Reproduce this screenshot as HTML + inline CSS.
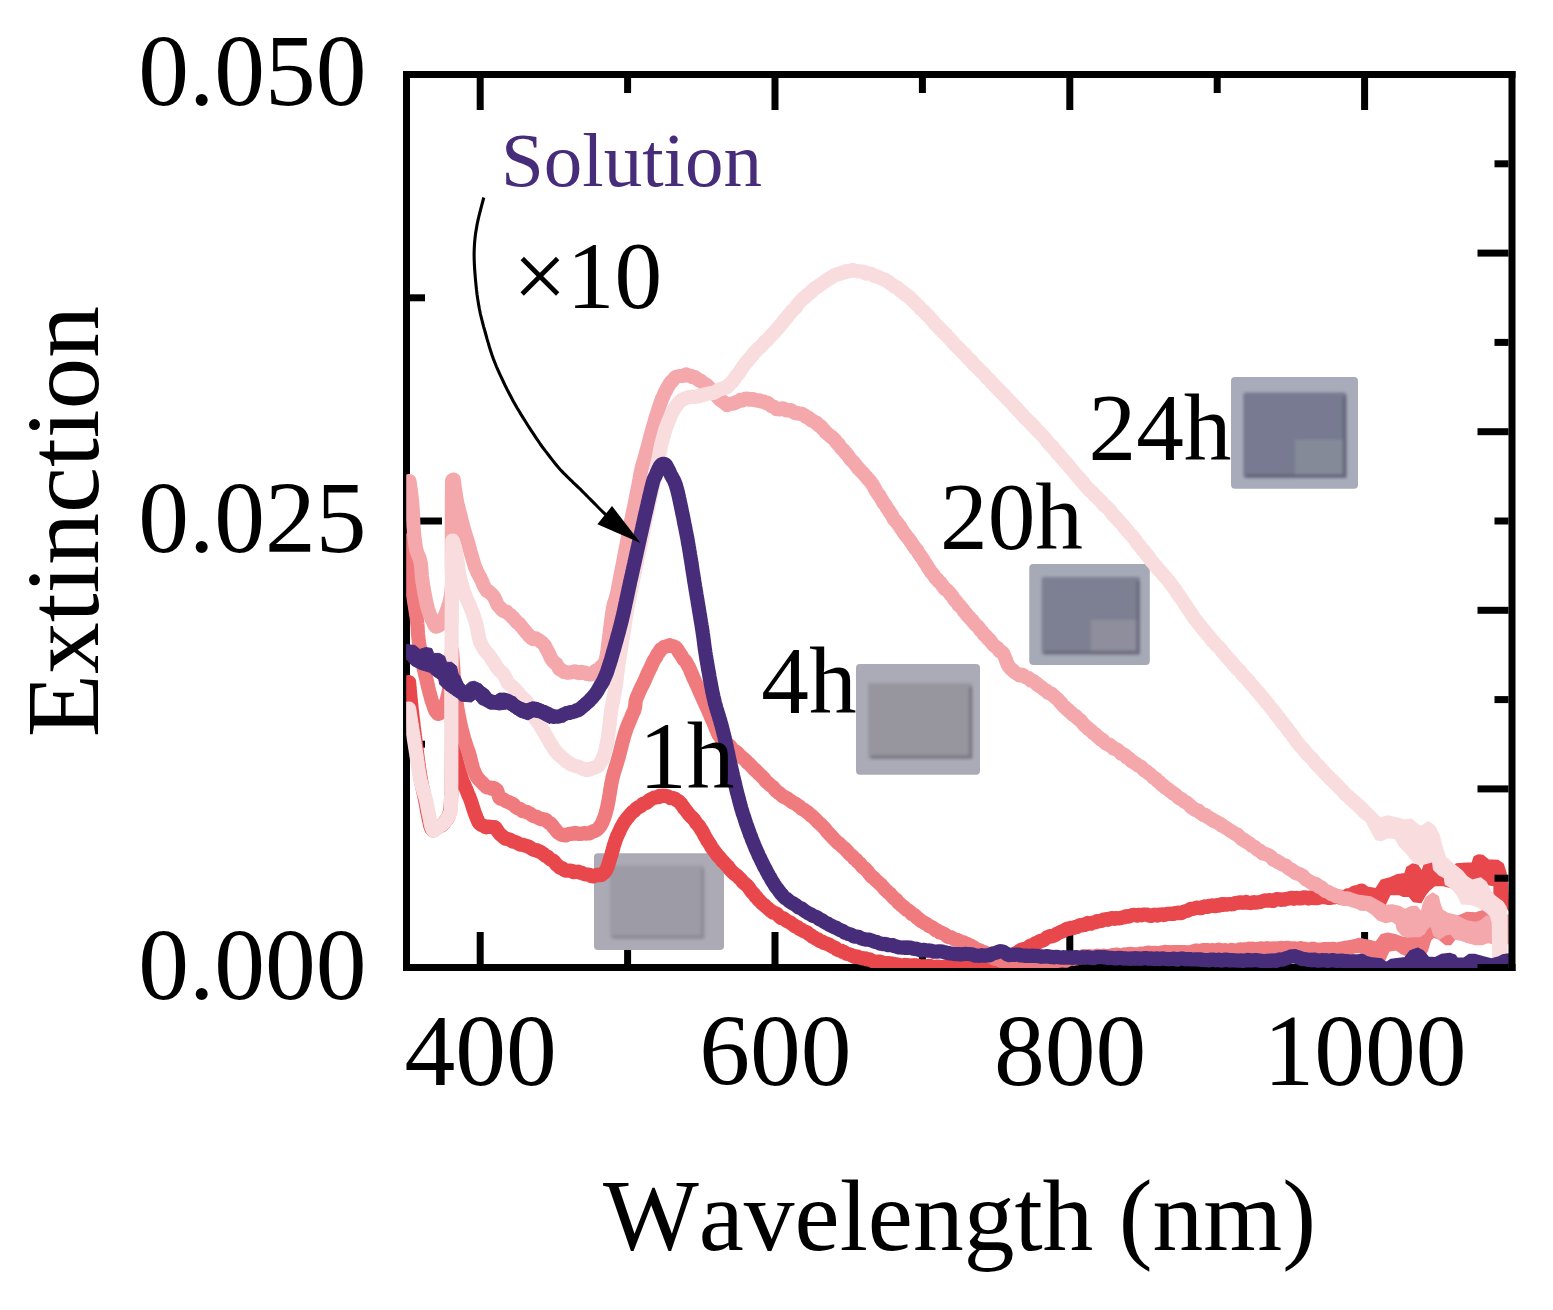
<!DOCTYPE html>
<html lang="en"><head><meta charset="utf-8"><title>Extinction spectra</title>
<style>
html,body{margin:0;padding:0;background:#fff;}
body{width:1553px;height:1310px;overflow:hidden;}
svg{display:block;}
text{font-family:"Liberation Serif","Times New Roman",serif;font-kerning:none;fill:#000;}
.tl{font-size:101.5px;}
.an{font-size:95.3px;}
.c{fill:none;stroke-width:14.2;stroke-linejoin:round;stroke-linecap:round;}
</style></head><body>
<svg width="1553" height="1310" viewBox="0 0 1553 1310">
<defs>
<clipPath id="cp"><rect x="406.2" y="0" width="1103.8" height="968"/></clipPath>
<filter id="bl" x="-10%" y="-10%" width="120%" height="120%"><feGaussianBlur stdDeviation="1.6"/></filter>
<filter id="bl2" x="-10%" y="-10%" width="120%" height="120%"><feGaussianBlur stdDeviation="0.7"/></filter>
</defs>
<rect width="1553" height="1310" fill="#fff"/>

<text class="tl" x="366.5" y="105" text-anchor="end">0.050</text>
<text class="tl" x="366.5" y="552" text-anchor="end">0.025</text>
<text class="tl" x="366.5" y="998.5" text-anchor="end">0.000</text>
<text class="tl" x="480.5" y="1085.3" text-anchor="middle">400</text>
<text class="tl" x="775.3" y="1085.3" text-anchor="middle">600</text>
<text class="tl" x="1070.1" y="1085.3" text-anchor="middle">800</text>
<text class="tl" x="1364.9" y="1085.3" text-anchor="middle">1000</text>
<text class="tl" x="959.5" y="1249.5" text-anchor="middle" id="xt">Wavelength (nm)</text>
<text class="tl" style="font-size:103.5px" transform="translate(97.5,521.7) rotate(-90)" text-anchor="middle" id="yt">Extinction</text>
<g stroke="#000" stroke-width="7" fill="none" stroke-linecap="butt">
<path d="M406.5,971.0 V74.5 H1515.5"/>
<path d="M403.0,967.5 H1515.5"/>
<path d="M480.2,78.0 v32"/>
<path d="M480.2,964.0 v-32"/>
<path d="M627.6,78.0 v15"/>
<path d="M627.6,964.0 v-15"/>
<path d="M775.0,78.0 v32"/>
<path d="M775.0,964.0 v-32"/>
<path d="M922.4,78.0 v15"/>
<path d="M922.4,964.0 v-15"/>
<path d="M1069.8,78.0 v32"/>
<path d="M1069.8,964.0 v-32"/>
<path d="M1217.2,78.0 v15"/>
<path d="M1217.2,964.0 v-15"/>
<path d="M1364.6,78.0 v32"/>
<path d="M1364.6,964.0 v-32"/>
<path d="M410.0,744.2 h15"/>
<path d="M410.0,521.0 h32"/>
<path d="M410.0,297.8 h15"/>
</g>
<g>
<rect x="594" y="853.3" width="130" height="96.70000000000005" rx="4" fill="#ABAAB5" filter="url(#bl2)"/>
<g filter="url(#bl)">
<rect x="610" y="865.5" width="94.5" height="73.5" rx="2" fill="#9C9BA6"/>
<path d="M613,937 H702.5 V869.5" fill="none" stroke="#8C8B96" stroke-width="3.5"/>
</g></g>
<g>
<rect x="856" y="664" width="124" height="110.79999999999995" rx="4" fill="#ABABB7" filter="url(#bl2)"/>
<g filter="url(#bl)">
<rect x="868" y="683" width="104.5" height="76" rx="2" fill="#97969F"/>
<path d="M871,757 H970.5 V687" fill="none" stroke="#7B7A84" stroke-width="3.5"/>
</g></g>
<g>
<rect x="1029.3" y="564" width="120.5" height="101" rx="4" fill="#A6A9B6" filter="url(#bl2)"/>
<g filter="url(#bl)">
<rect x="1041.7" y="577" width="98.29999999999995" height="77.60000000000002" rx="2" fill="#7D8092"/>
<rect x="1090.85" y="619.6800000000001" width="49.14999999999998" height="34.92000000000001" fill="#8E8E9C"/>
<path d="M1044.7,652.6 H1138 V581" fill="none" stroke="#6A6C7C" stroke-width="3.5"/>
</g></g>
<g>
<rect x="1231" y="377" width="127" height="111.80000000000001" rx="4" fill="#A8ACBA" filter="url(#bl2)"/>
<g filter="url(#bl)">
<rect x="1243.3" y="392.6" width="103.20000000000005" height="85.39999999999998" rx="2" fill="#777A90"/>
<rect x="1294.9" y="439.57" width="51.60000000000002" height="38.42999999999999" fill="#858A99"/>
<path d="M1246.3,476 H1344.5 V396.6" fill="none" stroke="#646679" stroke-width="3.5"/>
</g></g>
<g clip-path="url(#cp)">
<path class="c" stroke="#E8474C" d="M409.0,682.0 L409.2,683.6 L409.3,685.2 L409.5,686.9 L409.6,688.4 L409.8,690.0 L409.9,691.6 L410.1,693.2 L410.2,694.7 L410.4,696.3 L410.5,697.9 L410.7,699.5 L410.9,701.1 L411.0,702.7 L411.2,704.3 L411.4,705.9 L411.5,707.6 L411.7,709.1 L411.9,710.7 L412.1,712.2 L412.2,713.9 L412.4,715.5 L412.6,717.0 L412.8,718.6 L413.0,720.2 L413.2,721.9 L413.4,723.4 L413.5,725.0 L413.7,726.6 L413.9,728.2 L414.1,729.7 L414.3,731.2 L414.5,732.9 L414.7,734.5 L414.9,736.2 L415.1,737.6 L415.3,739.3 L415.5,740.9 L415.7,742.5 L415.9,744.0 L416.1,745.6 L416.3,747.1 L416.5,748.8 L416.7,750.3 L416.9,752.0 L417.1,753.5 L417.3,755.2 L417.5,756.8 L417.7,758.3 L417.9,759.9 L418.2,761.6 L418.4,763.1 L418.6,764.6 L418.8,766.2 L419.0,767.8 L419.3,769.3 L419.5,771.0 L419.7,772.6 L420.0,774.2 L420.2,775.6 L420.5,777.3 L420.7,779.0 L421.0,780.5 L421.3,782.0 L421.6,783.7 L421.9,785.2 L422.2,786.7 L422.6,788.1 L422.9,789.9 L423.3,791.4 L423.6,792.9 L424.0,794.5 L424.3,796.1 L424.7,797.7 L425.0,799.2 L425.3,800.7 L425.6,802.4 L425.9,804.1 L426.2,805.5 L426.5,807.1 L426.7,808.7 L427.0,810.2 L427.3,811.9 L427.7,813.5 L428.0,815.0 L428.3,816.5 L428.6,818.0 L428.9,819.6 L429.3,821.1 L429.6,822.6 L429.9,824.2 L430.4,825.9 L430.9,827.4 L431.6,829.1 L432.9,830.4 L434.4,830.0 L435.8,828.2 L437.1,827.9 L438.5,826.4 L440.0,826.2 L441.3,825.7 L442.6,824.6 L443.8,823.3 L444.9,821.6 L445.9,820.3 L446.9,819.4 L447.7,817.9 L448.4,816.6 L448.9,815.1 L449.4,813.5 L449.9,812.0 L450.2,810.6 L450.4,809.0 L450.6,807.4 L450.7,805.8 L450.8,804.2 L450.9,802.6 L451.0,801.0 L451.0,799.4 L451.1,797.8 L451.1,796.2 L451.2,794.6 L451.2,793.0 L451.3,791.4 L451.3,789.8 L451.3,788.2 L451.4,786.6 L451.4,785.0 L451.4,783.4 L451.5,781.8 L451.5,780.2 L451.5,778.6 L451.5,777.0 L451.6,775.4 L451.6,773.8 L451.6,772.2 L451.6,770.6 L451.7,769.0 L451.7,767.4 L451.7,765.8 L451.7,764.2 L451.8,762.6 L451.8,761.0 L451.8,759.4 L451.8,757.8 L451.8,756.2 L451.9,754.6 L451.9,753.0 L451.9,751.4 L451.9,749.8 L452.0,748.2 L452.0,746.6 L452.0,745.0 L452.4,746.6 L452.9,748.2 L453.4,749.7 L453.8,751.3 L454.3,752.6 L454.7,754.1 L455.2,755.7 L455.6,757.3 L456.1,758.6 L456.5,760.2 L457.0,762.0 L457.4,763.5 L457.8,765.2 L458.2,766.4 L458.7,768.2 L459.1,769.8 L459.5,771.0 L459.9,772.6 L460.3,774.3 L460.8,775.7 L461.3,777.3 L461.8,779.0 L462.3,780.5 L462.9,781.9 L463.5,783.1 L464.2,784.7 L464.8,786.0 L465.4,787.6 L466.1,789.0 L466.7,790.5 L467.3,792.0 L467.9,793.7 L468.5,795.4 L469.2,796.6 L469.7,797.8 L470.3,799.5 L470.8,800.9 L471.4,802.6 L471.9,804.2 L472.3,805.5 L472.8,807.1 L473.3,808.5 L473.8,810.0 L474.3,811.5 L474.8,813.1 L475.4,814.5 L476.0,816.1 L476.5,817.5 L477.1,818.9 L477.7,820.3 L478.4,822.0 L479.3,823.2 L480.4,824.2 L481.7,825.1 L483.2,825.5 L484.8,826.8 L486.3,827.3 L487.9,826.7 L489.5,826.7 L491.1,826.9 L492.7,827.0 L494.3,827.0 L495.6,828.0 L496.6,829.5 L497.4,830.5 L498.2,832.0 L499.1,833.1 L500.2,834.4 L501.4,835.3 L502.8,836.6 L504.2,837.7 L505.6,838.7 L507.1,838.8 L508.5,839.5 L510.0,839.6 L511.4,840.7 L512.9,841.6 L514.4,841.8 L515.9,842.1 L517.4,843.1 L518.9,843.9 L520.4,844.6 L521.8,844.7 L523.3,844.9 L524.8,845.4 L526.3,845.9 L527.7,846.3 L529.2,846.9 L530.7,848.0 L532.1,848.8 L533.7,849.9 L535.2,850.0 L536.7,850.0 L538.2,851.4 L539.6,851.4 L541.0,852.2 L542.4,853.5 L543.8,854.1 L545.1,855.6 L546.5,856.4 L547.8,856.8 L549.1,858.2 L550.4,859.4 L551.6,860.0 L552.8,860.5 L554.0,861.3 L555.2,863.0 L556.4,864.5 L557.6,865.5 L558.8,866.6 L560.0,867.7 L561.4,868.0 L562.7,868.5 L564.2,869.8 L565.7,870.7 L567.2,870.7 L568.8,870.6 L570.3,870.5 L571.9,871.0 L573.5,872.1 L575.1,871.7 L576.7,871.9 L578.2,871.7 L579.8,872.6 L581.3,872.6 L582.9,873.6 L584.4,874.1 L586.0,874.4 L587.5,874.5 L589.1,874.8 L590.7,875.8 L592.3,876.4 L593.9,876.3 L595.5,875.4 L597.1,875.0 L598.6,874.8 L600.2,875.2 L601.7,875.0 L603.1,873.5 L604.4,872.7 L605.4,871.3 L606.2,869.9 L606.9,868.4 L607.5,867.1 L608.0,865.7 L608.5,864.2 L608.9,862.6 L609.4,861.0 L609.9,859.5 L610.3,857.8 L610.8,856.5 L611.3,855.0 L611.7,853.3 L612.1,851.7 L612.6,850.2 L613.0,848.8 L613.4,847.3 L613.8,845.5 L614.3,844.2 L614.8,842.8 L615.3,841.3 L615.8,839.6 L616.4,838.1 L617.0,836.5 L617.6,835.3 L618.3,833.7 L619.0,832.5 L619.7,830.7 L620.4,829.0 L621.1,827.7 L621.9,826.2 L622.7,824.8 L623.6,823.2 L624.4,821.8 L625.3,820.8 L626.2,819.3 L627.2,818.0 L628.2,817.1 L629.2,815.7 L630.2,814.5 L631.4,813.3 L632.5,812.1 L633.6,811.3 L634.8,810.5 L636.0,808.8 L637.3,808.1 L638.5,807.2 L639.8,806.7 L641.1,805.8 L642.4,804.4 L643.7,803.6 L645.1,803.2 L646.5,802.7 L647.9,801.8 L649.3,800.1 L650.7,799.3 L652.1,798.7 L653.6,797.9 L655.0,797.7 L656.5,797.1 L658.1,797.2 L659.6,795.8 L661.2,796.3 L662.8,795.6 L664.4,796.0 L666.0,795.9 L667.6,796.3 L669.1,797.1 L670.6,798.2 L672.1,797.8 L673.6,798.5 L675.1,798.8 L676.5,800.2 L677.8,800.7 L679.1,801.5 L680.3,803.2 L681.3,803.9 L682.3,805.7 L683.3,806.7 L684.2,808.5 L685.1,809.3 L686.0,810.4 L687.0,811.9 L688.0,813.0 L689.0,814.5 L690.1,815.6 L691.1,816.7 L692.2,817.6 L693.2,818.7 L694.3,819.8 L695.3,821.4 L696.3,823.2 L697.4,824.3 L698.4,825.4 L699.4,826.6 L700.3,828.2 L701.1,829.7 L702.0,830.6 L702.8,832.2 L703.6,833.4 L704.3,835.2 L705.1,836.6 L705.9,837.9 L706.7,839.3 L707.5,840.8 L708.3,841.7 L709.1,843.1 L709.9,844.2 L710.7,845.6 L711.6,847.5 L712.5,848.8 L713.4,849.8 L714.3,851.0 L715.3,852.4 L716.3,853.4 L717.3,855.2 L718.3,856.2 L719.4,857.1 L720.4,858.5 L721.5,859.8 L722.5,861.3 L723.6,862.1 L724.7,863.2 L725.8,864.5 L726.9,865.7 L728.0,866.6 L729.1,868.2 L730.2,869.7 L731.3,870.9 L732.4,872.0 L733.5,872.9 L734.7,874.2 L735.8,874.8 L737.0,875.6 L738.1,876.7 L739.3,878.1 L740.4,879.0 L741.6,880.3 L742.7,881.9 L743.8,883.0 L745.0,883.7 L746.0,884.7 L747.1,885.6 L748.2,886.8 L749.2,888.2 L750.3,889.9 L751.3,891.4 L752.3,892.4 L753.3,893.2 L754.4,894.7 L755.4,896.4 L756.4,897.0 L757.5,898.5 L758.6,900.1 L759.7,900.8 L760.8,902.0 L762.0,903.4 L763.2,904.4 L764.4,905.0 L765.6,906.4 L766.8,907.4 L768.1,908.5 L769.3,909.4 L770.6,910.7 L771.9,911.4 L773.2,912.7 L774.5,912.8 L775.8,913.3 L777.1,914.1 L778.4,915.5 L779.7,916.8 L781.1,918.1 L782.4,918.0 L783.8,918.5 L785.2,919.6 L786.6,920.8 L787.9,921.5 L789.3,922.1 L790.7,922.7 L792.1,924.0 L793.5,924.9 L794.9,926.2 L796.3,926.5 L797.7,927.2 L799.0,928.6 L800.4,929.4 L801.7,929.7 L803.1,930.8 L804.4,931.5 L805.8,931.9 L807.1,932.5 L808.5,933.8 L809.8,934.6 L811.2,935.4 L812.5,936.7 L813.9,937.2 L815.2,938.2 L816.6,939.1 L818.0,939.3 L819.4,940.8 L820.8,941.3 L822.2,941.7 L823.6,942.8 L825.1,943.2 L826.5,943.6 L827.9,944.2 L829.4,944.8 L830.8,945.8 L832.3,946.6 L833.7,947.2 L835.2,947.8 L836.7,949.2 L838.1,949.9 L839.6,950.6 L841.1,950.5 L842.5,952.0 L844.0,951.8 L845.5,953.1 L846.9,953.8 L848.4,954.1 L849.9,954.5 L851.4,955.2 L852.9,955.9 L854.4,956.8 L856.0,956.4 L857.5,956.5 L859.1,957.5 L860.6,957.7 L862.2,958.3 L863.7,958.5 L865.3,958.3 L866.9,959.5 L868.4,959.3 L870.0,959.6 L871.6,960.5 L873.1,961.3 L874.7,961.7 L876.3,962.2 L877.8,961.7 L879.4,961.6 L881.0,961.9 L882.6,962.8 L884.2,963.0 L885.7,963.2 L887.3,963.5 L888.9,963.1 L890.5,963.5 L892.1,963.6 L893.7,964.4 L895.3,964.1 L896.8,964.4 L898.4,964.7 L900.0,965.1 L901.6,965.5 L903.2,965.7 L904.8,965.0 L906.4,965.9 L908.0,965.2 L909.6,965.8 L911.2,965.6 L912.8,965.3 L914.4,965.6 L916.0,965.4 L917.6,965.5 L919.2,966.6 L920.8,966.9 L922.4,966.4 L924.0,966.4 L925.6,966.5 L927.2,966.2 L928.8,965.8 L930.4,966.0 L932.0,966.7 L933.5,967.2 L935.1,966.9 L936.7,967.1 L938.3,966.6 L939.9,967.0 L941.5,967.2 L943.1,967.5 L944.7,966.6 L946.3,966.8 L947.9,966.2 L949.5,966.7 L951.1,966.9 L952.7,967.1 L954.3,967.2 L955.9,967.0 L957.5,966.7 L959.1,966.8 L960.7,967.6 L962.3,967.2 L963.9,968.0 L965.5,968.2 L967.1,967.5 L968.7,967.4 L970.3,967.8 L971.9,966.8 L973.5,967.4 L975.1,967.1 L976.7,967.3 L978.3,966.3 L979.9,966.7 L981.5,965.9 L983.1,965.7 L984.7,965.9 L986.2,965.9 L987.8,965.4 L989.4,964.8 L990.9,964.5 L992.5,964.0 L994.0,963.5 L995.6,963.0 L997.1,962.8 L998.6,962.8 L1000.1,962.5 L1001.5,961.4 L1003.0,961.2 L1004.4,959.9 L1005.7,959.4 L1007.1,958.7 L1008.4,957.8 L1009.8,957.2 L1011.2,956.1 L1012.6,955.5 L1014.0,954.1 L1015.4,953.3 L1016.8,952.7 L1018.2,952.0 L1019.7,950.7 L1021.1,949.9 L1022.6,949.7 L1024.0,948.9 L1025.5,948.6 L1026.9,948.1 L1028.3,947.3 L1029.8,946.0 L1031.2,945.4 L1032.7,945.4 L1034.1,944.3 L1035.6,943.1 L1037.0,943.0 L1038.5,942.1 L1039.9,941.1 L1041.4,940.7 L1042.8,940.6 L1044.2,939.7 L1045.7,938.5 L1047.1,937.3 L1048.5,936.9 L1050.0,936.1 L1051.4,936.3 L1052.8,935.9 L1054.3,935.4 L1055.7,934.8 L1057.2,933.4 L1058.7,932.9 L1060.2,932.2 L1061.7,931.6 L1063.2,931.0 L1064.7,930.1 L1066.2,929.3 L1067.7,928.5 L1069.3,928.8 L1070.8,927.9 L1072.3,928.2 L1073.8,927.8 L1075.4,926.9 L1076.9,927.1 L1078.5,925.8 L1080.0,925.2 L1081.5,925.4 L1083.1,924.7 L1084.6,924.9 L1086.2,924.2 L1087.7,923.0 L1089.3,923.5 L1090.8,923.7 L1092.4,922.8 L1093.9,922.5 L1095.5,922.2 L1097.1,921.1 L1098.6,921.3 L1100.2,920.9 L1101.8,920.8 L1103.3,919.7 L1104.9,919.6 L1106.5,919.1 L1108.1,919.8 L1109.7,918.8 L1111.3,918.2 L1112.8,918.2 L1114.4,918.8 L1116.0,918.0 L1117.6,918.3 L1119.2,918.4 L1120.8,918.0 L1122.3,917.4 L1123.9,917.5 L1125.5,916.5 L1127.1,916.1 L1128.6,916.6 L1130.2,915.8 L1131.8,915.4 L1133.4,914.9 L1135.0,915.1 L1136.6,915.7 L1138.2,914.8 L1139.7,914.8 L1141.3,915.4 L1142.9,914.5 L1144.5,914.7 L1146.1,914.5 L1147.7,914.8 L1149.3,915.6 L1150.9,915.9 L1152.5,915.2 L1154.1,914.7 L1155.7,914.9 L1157.3,915.6 L1158.9,914.8 L1160.5,914.5 L1162.1,914.4 L1163.7,915.1 L1165.3,914.5 L1166.9,913.9 L1168.5,913.9 L1170.1,914.0 L1171.7,913.5 L1173.3,913.9 L1174.9,913.2 L1176.4,913.1 L1178.0,912.7 L1179.6,913.1 L1181.2,913.2 L1182.7,912.3 L1184.3,911.6 L1185.8,911.0 L1187.4,910.9 L1188.9,909.9 L1190.4,909.1 L1192.0,908.8 L1193.5,908.8 L1195.1,908.3 L1196.6,907.7 L1198.2,907.8 L1199.8,908.2 L1201.3,908.2 L1202.9,907.1 L1204.5,906.4 L1206.1,906.7 L1207.7,906.9 L1209.3,905.9 L1210.8,905.8 L1212.4,905.4 L1214.0,906.0 L1215.6,906.2 L1217.2,905.1 L1218.8,905.6 L1220.4,904.5 L1221.9,904.1 L1223.5,904.8 L1225.1,904.1 L1226.7,904.6 L1228.3,904.2 L1229.9,904.0 L1231.5,904.3 L1233.1,904.1 L1234.7,903.3 L1236.3,903.0 L1237.9,902.7 L1239.5,902.4 L1241.1,902.3 L1242.7,902.8 L1244.3,902.6 L1245.9,901.9 L1247.5,902.7 L1249.1,902.8 L1250.7,903.1 L1252.3,902.8 L1253.9,902.2 L1255.5,902.6 L1257.0,902.5 L1258.6,902.2 L1260.2,902.0 L1261.8,901.5 L1263.4,901.0 L1265.0,900.4 L1266.6,900.5 L1268.2,900.6 L1269.8,900.0 L1271.4,900.7 L1272.9,901.0 L1274.5,900.1 L1276.1,899.4 L1277.7,899.0 L1279.3,899.5 L1280.9,899.8 L1282.5,899.4 L1284.1,899.7 L1285.7,899.0 L1287.3,898.8 L1288.9,898.5 L1290.5,898.0 L1292.1,897.8 L1293.7,898.8 L1295.3,898.2 L1296.9,897.8 L1298.5,898.4 L1300.1,898.2 L1301.7,898.3 L1303.3,897.6 L1304.9,897.3 L1306.5,897.7 L1308.1,898.5 L1309.7,897.8 L1311.3,897.3 L1312.9,898.0 L1314.5,898.2 L1316.1,897.9 L1317.7,898.1 L1319.3,897.5 L1320.9,897.1 L1322.5,897.1 L1324.1,896.9 L1325.7,897.3 L1327.3,897.7 L1328.9,897.9 L1330.5,897.8 L1332.1,897.1 L1333.7,897.5 L1335.3,897.0 L1336.9,896.6 L1338.5,896.7 L1340.0,897.5 L1341.6,896.9 L1343.2,896.8 L1344.8,896.8 L1346.4,896.3 L1347.9,895.3 L1349.5,895.2 L1351.0,894.9 L1352.5,894.0 L1354.0,893.1 L1355.5,892.3 L1357.1,892.5 L1358.6,892.6 L1360.1,891.1 L1361.6,890.7 L1362.0,890.9"/>
<path fill="#E8474C" stroke="#E8474C" stroke-width="1.5" stroke-linejoin="round" d="M1359.0,885.0 L1368.6,887.6 L1376.0,888.7 L1381.4,880.2 L1389.9,878.0 L1397.4,874.8 L1404.9,873.7 L1407.0,867.3 L1412.4,864.1 L1417.7,865.2 L1422.0,871.6 L1424.1,865.2 L1431.6,860.4 L1433.7,869.5 L1439.1,874.8 L1445.5,870.5 L1456.2,864.1 L1462.6,863.6 L1472.2,863.1 L1474.4,856.6 L1478.6,855.0 L1482.9,855.6 L1488.3,859.9 L1497.9,860.4 L1503.2,864.1 L1505.9,872.7 L1507.5,885.5 L1508.6,910.1 L1508.6,910.1 L1504.3,902.6 L1498.9,898.3 L1494.1,896.2 L1494.1,885.5 L1487.2,884.4 L1482.9,881.8 L1477.6,881.2 L1472.2,883.4 L1462.6,883.4 L1456.2,885.5 L1450.9,887.6 L1443.4,885.5 L1434.8,885.5 L1429.5,889.8 L1425.2,895.1 L1420.9,902.6 L1413.4,901.5 L1409.2,896.2 L1402.8,896.2 L1399.5,894.6 L1389.9,894.6 L1384.6,905.8 L1379.2,902.6 L1373.9,898.3 L1366.4,897.8 L1359.0,898.6Z"/>
<path class="c" stroke="#F07B7E" d="M409.0,540.0 L409.1,541.6 L409.1,543.2 L409.2,544.8 L409.3,546.4 L409.4,548.0 L409.4,549.6 L409.5,551.2 L409.6,552.8 L409.6,554.4 L409.7,556.0 L409.8,557.6 L409.8,559.2 L409.9,560.8 L410.0,562.4 L410.1,564.0 L410.1,565.6 L410.2,567.2 L410.3,568.8 L410.4,570.4 L410.5,572.0 L410.6,573.6 L410.7,575.1 L410.8,576.8 L410.9,578.4 L411.0,580.0 L411.1,581.5 L411.3,583.1 L411.5,584.8 L411.7,586.4 L411.9,587.9 L412.1,589.4 L412.4,591.1 L412.6,592.7 L412.9,594.3 L413.2,595.8 L413.5,597.4 L413.7,599.0 L414.0,600.7 L414.2,602.1 L414.5,603.6 L414.7,605.1 L415.0,606.8 L415.2,608.4 L415.5,610.1 L415.7,611.6 L416.0,613.2 L416.2,614.8 L416.5,616.3 L416.7,617.9 L416.9,619.6 L417.0,621.1 L417.2,622.7 L417.3,624.3 L417.5,625.9 L417.6,627.4 L417.7,629.1 L417.8,630.7 L417.9,632.3 L418.0,633.8 L418.2,635.4 L418.3,637.1 L418.5,638.6 L418.7,640.2 L418.9,641.9 L419.1,643.4 L419.4,644.9 L419.6,646.4 L419.9,648.1 L420.1,649.7 L420.4,651.3 L420.7,652.8 L421.0,654.4 L421.2,656.1 L421.5,657.6 L421.8,659.0 L422.1,660.8 L422.5,662.4 L422.8,663.8 L423.1,665.4 L423.5,667.0 L423.8,668.5 L424.2,670.2 L424.5,671.8 L424.9,673.3 L425.3,674.8 L425.6,676.3 L426.0,677.8 L426.4,679.3 L426.7,680.8 L427.1,682.4 L427.5,684.2 L427.8,685.7 L428.2,687.4 L428.6,689.0 L429.0,690.5 L429.3,691.8 L429.8,693.6 L430.2,694.9 L430.6,696.6 L431.0,698.2 L431.5,699.8 L431.9,701.2 L432.4,702.5 L432.9,703.9 L433.4,705.7 L433.9,707.1 L434.5,708.7 L435.1,710.1 L435.8,711.3 L436.7,712.6 L438.0,713.9 L439.5,713.4 L440.7,712.2 L441.7,711.1 L442.6,709.8 L443.4,708.4 L444.1,707.0 L444.8,705.8 L445.4,704.3 L445.9,702.5 L446.4,700.9 L446.9,699.3 L447.3,697.8 L447.7,696.2 L448.1,694.8 L448.4,693.3 L448.7,691.7 L449.0,690.2 L449.2,688.5 L449.4,687.0 L449.5,685.4 L449.7,683.8 L449.8,682.2 L450.0,680.6 L450.1,679.0 L450.2,677.4 L450.3,675.8 L450.4,674.2 L450.5,672.6 L450.6,671.0 L450.7,669.4 L450.8,667.8 L450.9,666.2 L451.0,664.6 L451.1,663.1 L451.3,661.4 L451.4,659.8 L451.5,658.2 L451.6,656.6 L451.7,655.0 L451.8,653.4 L451.9,651.8 L452.0,650.3 L452.1,651.4 L452.2,653.0 L452.3,654.6 L452.4,656.1 L452.5,657.7 L452.6,659.3 L452.7,660.9 L452.8,662.5 L452.9,664.1 L453.1,665.7 L453.2,667.3 L453.3,669.0 L453.4,670.5 L453.5,672.1 L453.6,673.7 L453.7,675.3 L453.9,676.9 L454.0,678.5 L454.1,680.1 L454.2,681.7 L454.4,683.3 L454.5,684.9 L454.7,686.5 L454.8,688.0 L455.0,689.6 L455.1,691.2 L455.3,692.8 L455.5,694.4 L455.7,695.9 L455.9,697.6 L456.1,699.2 L456.3,700.9 L456.6,702.4 L456.8,703.8 L457.0,705.5 L457.3,707.1 L457.5,708.7 L457.8,710.3 L458.1,711.8 L458.3,713.4 L458.6,714.9 L458.9,716.5 L459.2,718.0 L459.5,719.7 L459.8,721.2 L460.1,722.8 L460.5,724.3 L460.8,725.8 L461.2,727.3 L461.6,729.0 L462.0,730.5 L462.4,732.0 L462.8,733.6 L463.2,735.1 L463.7,736.9 L464.1,738.5 L464.5,739.8 L465.0,741.3 L465.5,742.8 L466.0,744.4 L466.5,745.9 L467.0,747.4 L467.5,749.1 L468.1,750.4 L468.6,752.0 L469.1,753.4 L469.5,755.0 L470.0,756.5 L470.3,758.2 L470.7,759.9 L471.1,761.5 L471.5,762.9 L471.9,764.4 L472.3,765.8 L472.7,767.5 L473.2,769.1 L473.8,770.5 L474.5,771.8 L475.1,773.5 L475.9,775.0 L476.6,776.5 L477.4,777.6 L478.3,778.7 L479.3,779.9 L480.3,781.0 L481.3,782.0 L482.5,783.0 L483.7,784.5 L484.9,785.6 L486.3,787.0 L487.7,787.5 L489.2,787.4 L490.8,788.5 L492.4,787.8 L494.0,788.0 L495.5,789.1 L496.7,789.8 L497.4,791.5 L497.9,793.0 L498.3,794.4 L498.8,796.1 L499.5,797.8 L500.6,798.8 L502.0,799.0 L503.4,799.2 L505.0,800.5 L506.5,801.4 L508.0,801.8 L509.5,802.5 L510.9,803.3 L512.2,803.6 L513.4,804.3 L514.7,805.9 L515.9,807.2 L517.1,807.9 L518.4,808.5 L519.8,808.9 L521.2,809.8 L522.6,811.2 L524.1,811.3 L525.6,811.7 L527.1,812.0 L528.5,813.1 L530.0,813.4 L531.4,814.8 L532.8,815.6 L534.2,816.2 L535.7,816.6 L537.2,817.1 L538.7,818.2 L540.3,819.0 L541.9,819.3 L543.3,819.1 L544.8,819.4 L546.2,820.2 L547.6,821.7 L549.0,822.8 L550.2,823.2 L551.3,824.5 L552.3,825.6 L553.2,826.9 L554.2,827.9 L555.3,829.4 L556.5,830.8 L557.6,832.2 L558.7,833.0 L560.0,833.8 L561.4,834.8 L562.9,834.6 L564.5,835.4 L566.1,835.4 L567.6,834.4 L569.2,834.0 L570.7,833.6 L572.3,833.8 L573.9,833.6 L575.4,832.8 L577.0,833.5 L578.6,833.9 L580.2,834.0 L581.8,833.6 L583.4,833.4 L585.0,833.1 L586.6,833.6 L588.2,833.0 L589.8,833.3 L591.4,832.3 L593.0,831.4 L594.5,831.2 L595.9,830.4 L597.2,829.6 L598.4,828.4 L599.4,827.1 L600.3,826.1 L601.1,824.6 L601.9,823.3 L602.5,822.1 L603.1,820.5 L603.7,819.0 L604.3,817.5 L604.8,816.0 L605.2,814.6 L605.7,813.2 L606.1,811.4 L606.5,809.9 L606.9,808.4 L607.3,807.0 L607.6,805.4 L607.9,803.7 L608.2,802.2 L608.5,800.7 L608.8,799.2 L609.0,797.6 L609.3,795.8 L609.6,794.2 L609.8,792.7 L610.1,791.1 L610.3,789.6 L610.6,788.0 L610.9,786.5 L611.2,784.7 L611.4,783.3 L611.8,781.6 L612.1,780.1 L612.4,778.4 L612.8,776.9 L613.2,775.4 L613.6,774.0 L614.0,772.2 L614.5,770.7 L615.0,769.1 L615.5,767.8 L616.0,766.1 L616.4,764.5 L616.9,763.2 L617.4,761.5 L617.8,760.2 L618.2,758.5 L618.7,757.2 L619.1,755.4 L619.5,753.8 L619.9,752.3 L620.3,750.7 L620.7,749.3 L621.1,747.7 L621.5,746.1 L621.9,744.4 L622.3,742.8 L622.7,741.3 L623.1,739.8 L623.5,738.5 L623.9,737.0 L624.4,735.3 L624.8,733.8 L625.3,732.4 L625.8,731.0 L626.3,729.2 L626.8,727.8 L627.4,726.2 L628.0,725.0 L628.6,723.5 L629.2,722.0 L629.8,720.5 L630.5,719.1 L631.2,717.3 L631.8,715.8 L632.5,714.2 L633.1,712.7 L633.7,711.6 L634.3,710.1 L634.7,708.4 L635.1,706.9 L635.3,705.4 L635.4,703.7 L635.5,702.2 L635.8,700.6 L636.3,698.9 L636.8,697.5 L637.4,696.0 L638.0,694.7 L638.7,693.1 L639.3,691.5 L640.0,690.2 L640.7,688.7 L641.4,687.1 L642.1,685.9 L642.7,684.7 L643.4,683.3 L644.1,681.8 L644.8,680.2 L645.4,678.9 L646.1,677.1 L646.8,675.5 L647.4,674.0 L648.1,672.7 L648.8,671.2 L649.5,669.8 L650.1,668.6 L650.8,667.2 L651.5,665.5 L652.3,663.9 L653.0,662.3 L653.7,660.8 L654.5,659.5 L655.2,658.5 L656.0,657.3 L656.8,655.7 L657.6,654.0 L658.4,652.9 L659.3,651.9 L660.2,650.0 L661.2,649.1 L662.4,648.5 L663.7,647.2 L665.2,646.6 L666.7,646.3 L668.2,646.0 L669.8,645.2 L671.4,645.9 L673.0,646.2 L674.5,646.8 L675.8,647.6 L676.9,648.9 L677.8,650.0 L678.6,651.6 L679.3,652.6 L680.1,653.7 L681.0,655.0 L681.9,656.5 L682.8,658.1 L683.8,659.7 L684.8,660.3 L685.7,661.4 L686.6,662.9 L687.4,664.5 L688.2,665.9 L688.9,667.2 L689.6,668.6 L690.3,670.3 L690.9,671.8 L691.6,673.5 L692.2,674.7 L692.8,676.1 L693.4,677.9 L694.1,679.3 L694.7,680.5 L695.4,682.1 L696.0,683.5 L696.7,684.7 L697.3,686.1 L698.0,687.7 L698.6,689.2 L699.3,690.6 L699.9,692.3 L700.6,693.6 L701.2,695.1 L701.9,696.6 L702.5,697.8 L703.2,699.6 L703.8,700.9 L704.5,702.2 L705.1,703.8 L705.8,705.2 L706.4,706.5 L707.1,707.9 L707.7,709.3 L708.4,711.0 L709.0,712.5 L709.7,713.9 L710.3,715.3 L711.0,717.2 L711.6,718.6 L712.3,720.1 L713.0,721.2 L713.6,723.1 L714.2,724.2 L714.8,725.9 L715.4,727.5 L716.0,728.9 L716.6,730.2 L717.3,731.8 L717.9,733.3 L718.6,734.9 L719.4,735.9 L720.3,737.0 L721.3,738.6 L722.4,739.6 L723.6,740.9 L724.8,741.8 L726.0,742.4 L727.3,744.1 L728.5,744.8 L729.7,745.8 L730.9,747.3 L732.1,748.7 L733.3,749.9 L734.5,751.1 L735.7,751.5 L736.9,752.3 L738.0,753.4 L739.2,754.9 L740.4,756.0 L741.6,757.1 L742.7,758.2 L743.9,758.9 L745.1,760.1 L746.2,761.1 L747.4,762.7 L748.6,763.3 L749.7,764.5 L750.9,765.7 L752.1,766.9 L753.2,768.2 L754.3,769.4 L755.4,769.9 L756.5,771.6 L757.6,772.1 L758.7,773.7 L759.8,774.6 L760.9,775.4 L762.0,776.7 L763.2,777.7 L764.3,778.8 L765.4,780.7 L766.6,782.0 L767.7,782.7 L768.9,783.8 L770.1,785.0 L771.2,785.8 L772.4,786.6 L773.6,787.8 L774.8,789.4 L776.0,790.8 L777.2,791.6 L778.5,792.8 L779.7,793.4 L781.0,794.7 L782.2,795.8 L783.5,796.9 L784.8,797.1 L786.2,798.0 L787.5,798.4 L788.8,799.6 L790.2,800.5 L791.5,801.6 L792.8,802.5 L794.2,803.1 L795.5,803.7 L796.9,804.6 L798.2,806.0 L799.6,806.5 L800.9,808.1 L802.2,809.1 L803.5,809.4 L804.8,810.3 L806.1,811.6 L807.4,811.9 L808.6,813.4 L809.8,814.3 L811.0,815.6 L812.2,816.1 L813.4,817.5 L814.5,818.2 L815.7,819.4 L816.8,820.8 L818.0,822.1 L819.1,823.1 L820.3,824.0 L821.4,825.1 L822.5,826.2 L823.6,827.3 L824.7,828.4 L825.8,829.8 L826.9,831.3 L828.0,832.7 L829.1,833.6 L830.2,835.1 L831.3,835.9 L832.5,837.3 L833.6,838.6 L834.7,839.7 L835.9,841.0 L837.0,841.9 L838.1,843.1 L839.3,843.7 L840.4,844.8 L841.6,846.0 L842.7,847.1 L843.9,847.8 L845.0,848.8 L846.2,850.3 L847.3,851.3 L848.5,852.8 L849.6,854.0 L850.8,855.0 L851.9,855.7 L853.1,856.9 L854.2,858.6 L855.3,859.3 L856.5,860.0 L857.6,861.7 L858.7,862.6 L859.9,863.5 L861.0,864.9 L862.1,866.5 L863.2,867.5 L864.4,868.2 L865.5,869.0 L866.6,870.4 L867.7,871.4 L868.9,873.2 L870.0,874.6 L871.1,875.9 L872.2,877.1 L873.4,877.6 L874.5,878.8 L875.6,879.9 L876.7,881.0 L877.9,882.1 L879.0,883.0 L880.1,883.9 L881.2,884.8 L882.4,886.5 L883.5,887.4 L884.6,889.1 L885.8,890.2 L886.9,891.0 L888.1,892.6 L889.2,893.1 L890.4,894.0 L891.5,895.7 L892.7,896.6 L893.8,898.2 L895.0,899.0 L896.2,899.5 L897.3,901.3 L898.5,902.8 L899.7,903.5 L900.8,904.7 L902.0,905.7 L903.2,906.2 L904.4,907.7 L905.6,908.7 L906.8,909.9 L908.0,910.2 L909.3,911.4 L910.5,912.2 L911.8,914.0 L913.0,914.3 L914.3,914.9 L915.6,916.1 L916.9,917.7 L918.1,918.2 L919.4,919.5 L920.8,920.8 L922.1,921.6 L923.4,922.2 L924.7,923.4 L926.1,923.7 L927.4,924.4 L928.7,925.9 L930.1,926.3 L931.5,927.0 L932.8,927.6 L934.2,928.8 L935.6,930.2 L937.0,930.3 L938.4,931.2 L939.8,932.5 L941.3,932.5 L942.7,933.4 L944.1,933.9 L945.6,934.9 L947.0,936.2 L948.4,937.1 L949.9,937.2 L951.3,937.4 L952.8,938.2 L954.3,939.5 L955.7,939.5 L957.2,939.9 L958.7,940.5 L960.2,941.9 L961.7,941.9 L963.2,942.2 L964.6,942.9 L966.1,943.7 L967.6,944.1 L969.0,945.3 L970.5,945.5 L971.9,946.4 L973.4,946.9 L974.8,948.2 L976.3,949.4 L977.7,949.6 L979.1,950.0 L980.5,950.7 L981.9,951.6 L983.3,952.0 L984.7,952.4 L986.1,953.3 L987.5,954.5 L988.9,955.2 L990.3,955.6 L991.8,956.6 L993.3,958.0 L994.7,958.9 L996.2,958.7 L997.7,958.8 L999.2,959.8 L1000.8,960.8 L1002.3,960.4 L1003.8,961.1 L1005.4,961.3 L1006.9,962.4 L1008.5,963.1 L1010.1,962.5 L1011.7,963.4 L1013.2,962.8 L1014.8,962.7 L1016.4,963.8 L1018.0,963.5 L1019.6,964.3 L1021.2,964.2 L1022.8,964.3 L1024.4,964.7 L1026.0,964.7 L1027.6,964.1 L1029.2,964.0 L1030.8,963.8 L1032.4,963.5 L1034.0,963.5 L1035.6,963.9 L1037.2,963.7 L1038.8,962.9 L1040.4,963.6 L1042.0,963.6 L1043.6,963.9 L1045.2,963.4 L1046.7,962.8 L1048.3,963.0 L1049.9,962.9 L1051.5,962.5 L1053.1,962.3 L1054.7,961.7 L1056.3,961.2 L1057.8,960.5 L1059.4,960.6 L1061.0,960.6 L1062.6,960.0 L1064.2,960.6 L1065.7,960.7 L1067.3,959.8 L1068.9,958.9 L1070.4,958.3 L1072.0,958.6 L1073.6,958.8 L1075.2,958.2 L1076.7,958.4 L1078.3,957.6 L1079.9,957.2 L1081.5,956.8 L1083.1,956.3 L1084.7,956.0 L1086.3,957.1 L1087.9,956.5 L1089.5,956.1 L1091.1,956.7 L1092.7,956.5 L1094.3,956.7 L1095.9,956.0 L1097.5,955.7 L1099.1,956.1 L1100.7,956.9 L1102.3,956.1 L1103.9,955.6 L1105.5,956.2 L1107.1,956.3 L1108.7,956.0 L1110.2,956.0 L1111.8,955.4 L1113.4,955.0 L1115.0,954.8 L1116.6,954.6 L1118.2,954.9 L1119.8,955.2 L1121.4,955.4 L1123.0,955.2 L1124.6,954.4 L1126.2,954.8 L1127.8,954.2 L1129.4,953.8 L1131.0,953.9 L1132.6,954.8 L1134.2,954.3 L1135.8,954.4 L1137.4,954.5 L1139.0,954.4 L1140.6,953.6 L1142.2,953.9 L1143.8,954.0 L1145.4,953.4 L1147.0,952.9 L1148.6,952.6 L1150.2,953.3 L1151.8,953.8 L1153.4,952.8 L1155.0,952.8 L1156.6,953.3 L1158.2,953.6 L1159.8,953.6 L1161.4,952.6 L1163.0,952.5 L1164.6,951.9 L1166.2,952.1 L1167.8,952.6 L1169.4,952.1 L1171.0,952.9 L1172.6,952.2 L1174.1,952.1 L1175.7,952.1 L1177.3,952.0 L1178.9,952.2 L1180.5,952.0 L1182.1,952.3 L1183.7,952.0 L1185.3,952.4 L1186.9,952.4 L1188.5,952.4 L1190.1,952.4 L1191.7,952.0 L1193.3,951.4 L1194.9,950.8 L1196.5,950.5 L1198.1,950.8 L1199.7,951.2 L1201.3,951.0 L1202.9,950.2 L1204.5,950.2 L1206.1,950.5 L1207.7,950.1 L1209.3,951.0 L1210.9,950.5 L1212.5,950.0 L1214.1,950.9 L1215.7,950.6 L1217.3,950.1 L1218.9,949.7 L1220.5,950.1 L1222.1,950.9 L1223.7,950.3 L1225.3,950.2 L1226.9,950.7 L1228.5,950.7 L1230.1,950.8 L1231.7,949.8 L1233.3,950.5 L1234.9,950.9 L1236.5,950.3 L1238.1,950.5 L1239.7,949.6 L1241.3,949.3 L1242.9,950.1 L1244.5,949.4 L1246.1,949.3 L1247.7,949.1 L1249.3,948.7 L1250.9,949.5 L1252.5,948.7 L1254.1,949.5 L1255.7,949.0 L1257.3,949.1 L1258.9,948.7 L1260.5,948.4 L1262.1,948.6 L1263.7,949.1 L1265.3,948.9 L1266.9,948.2 L1268.5,948.4 L1270.1,948.5 L1271.7,949.0 L1273.3,948.3 L1274.9,948.8 L1276.5,948.3 L1278.1,948.8 L1279.7,948.4 L1281.3,947.9 L1282.9,948.3 L1284.5,948.8 L1286.1,947.9 L1287.7,947.9 L1289.3,948.0 L1290.9,948.7 L1292.5,949.1 L1294.0,948.3 L1295.6,948.6 L1297.2,948.8 L1298.8,948.8 L1300.4,948.1 L1302.0,948.4 L1303.6,949.2 L1305.2,948.8 L1306.8,949.5 L1308.4,949.7 L1310.0,949.3 L1311.6,948.9 L1313.2,948.7 L1314.8,949.6 L1316.4,949.7 L1318.0,950.0 L1319.6,949.7 L1321.2,949.8 L1322.8,949.4 L1324.4,949.0 L1326.0,949.3 L1327.6,949.0 L1329.2,949.3 L1330.8,949.2 L1332.4,948.9 L1334.0,948.9 L1335.6,949.6 L1337.2,949.8 L1338.8,949.8 L1340.4,948.8 L1342.0,948.5 L1343.6,948.6 L1345.1,947.7 L1346.7,947.5 L1348.3,947.8 L1349.9,948.0 L1351.4,946.8 L1353.0,946.6 L1354.6,946.3 L1356.1,945.9 L1357.7,946.2 L1359.3,945.0 L1360.9,945.5 L1362.0,945.6"/>
<path fill="#F07B7E" stroke="#F07B7E" stroke-width="1.5" stroke-linejoin="round" d="M1359.0,939.0 L1368.6,940.2 L1376.0,942.3 L1381.4,934.8 L1387.8,933.2 L1395.3,934.8 L1402.8,937.5 L1411.3,937.0 L1419.9,934.8 L1426.3,929.5 L1431.1,925.7 L1434.8,924.1 L1445.5,919.9 L1459.4,915.6 L1466.9,912.4 L1475.4,912.9 L1482.9,910.8 L1490.4,915.6 L1508.6,915.6 L1508.6,929.5 L1477.6,929.5 L1461.5,934.8 L1455.1,939.1 L1450.9,944.4 L1445.5,944.4 L1439.1,939.1 L1433.7,937.0 L1430.5,940.2 L1427.3,950.9 L1424.1,956.2 L1413.4,956.2 L1404.9,955.1 L1400.6,953.0 L1396.3,949.8 L1388.9,950.9 L1384.6,960.5 L1376.0,958.3 L1368.6,957.3 L1359.0,952.0Z"/>
<path class="c" stroke="#F4A8AB" d="M409.4,481.0 L409.6,482.6 L409.9,484.3 L410.1,485.7 L410.3,487.4 L410.6,488.9 L410.8,490.5 L411.0,492.0 L411.2,493.7 L411.4,495.2 L411.6,496.9 L411.7,498.5 L411.9,500.1 L412.1,501.6 L412.2,503.3 L412.3,504.9 L412.5,506.4 L412.6,508.0 L412.7,509.6 L412.8,511.2 L412.9,512.8 L413.0,514.4 L413.0,516.0 L413.1,517.6 L413.1,519.2 L413.2,520.8 L413.3,522.4 L413.3,524.0 L413.4,525.6 L413.5,527.2 L413.7,528.8 L413.8,530.4 L413.9,532.1 L414.1,533.6 L414.2,535.2 L414.4,536.7 L414.6,538.2 L414.8,539.9 L415.0,541.6 L415.2,543.2 L415.4,544.9 L415.7,546.4 L415.9,547.9 L416.3,549.5 L416.7,551.2 L417.1,552.4 L417.7,553.9 L418.3,555.2 L418.9,556.6 L419.5,558.3 L420.0,560.0 L420.4,561.7 L420.7,563.0 L420.9,564.6 L421.1,566.3 L421.2,567.9 L421.4,569.5 L421.5,571.0 L421.6,572.6 L421.7,574.2 L421.8,575.8 L422.0,577.4 L422.2,579.0 L422.4,580.6 L422.6,582.2 L422.9,583.7 L423.1,585.4 L423.4,586.9 L423.6,588.4 L423.9,590.0 L424.2,591.6 L424.5,593.3 L424.8,594.7 L425.1,596.3 L425.4,597.7 L425.7,599.4 L426.0,600.9 L426.4,602.5 L426.7,604.2 L427.1,605.6 L427.6,607.4 L428.0,609.0 L428.5,610.6 L429.0,612.0 L429.5,613.5 L430.0,614.9 L430.5,616.3 L431.1,617.7 L431.7,619.1 L432.4,620.5 L433.1,622.0 L433.9,623.9 L434.7,625.4 L435.7,626.7 L437.1,626.4 L438.5,625.8 L439.6,625.0 L440.5,623.9 L441.3,622.4 L442.1,621.2 L442.9,620.1 L443.6,618.2 L444.3,616.7 L445.0,615.5 L445.6,613.8 L446.2,612.5 L446.8,610.9 L447.3,609.1 L447.8,607.7 L448.3,606.1 L448.8,604.9 L449.2,603.5 L449.6,601.8 L450.0,600.4 L450.3,598.6 L450.6,597.0 L450.9,595.4 L451.2,593.7 L451.4,592.3 L451.6,590.7 L451.7,589.2 L451.8,587.6 L451.9,586.0 L452.0,584.3 L452.1,582.8 L452.1,581.1 L452.1,579.5 L452.1,577.9 L452.1,576.3 L452.1,574.7 L452.0,573.1 L452.0,571.5 L452.0,569.9 L452.0,568.3 L451.9,566.7 L451.9,565.1 L451.9,563.5 L451.9,561.9 L451.9,560.3 L451.9,558.7 L451.9,557.1 L451.9,555.5 L451.9,553.9 L451.9,552.3 L451.9,550.7 L451.9,549.1 L451.9,547.5 L451.9,545.9 L451.9,544.3 L451.9,542.7 L451.9,541.1 L451.9,539.5 L451.9,537.9 L451.9,536.3 L451.9,534.7 L451.9,533.1 L451.9,531.5 L451.9,529.9 L451.9,528.3 L451.9,526.7 L451.9,525.1 L451.9,523.5 L451.9,521.9 L451.9,520.3 L451.9,518.7 L451.9,517.1 L451.9,515.5 L451.9,513.9 L451.9,512.3 L451.9,510.7 L451.9,509.1 L451.9,507.5 L451.9,505.9 L451.9,504.3 L451.9,502.7 L451.9,501.1 L451.9,499.5 L451.9,497.9 L451.9,496.3 L451.9,494.7 L451.9,493.1 L452.0,491.6 L452.0,489.9 L452.0,488.3 L452.0,486.7 L452.1,485.2 L452.1,483.5 L452.1,481.9 L452.2,480.4 L452.5,480.0 L453.7,479.5 L453.9,481.0 L454.1,482.5 L454.3,484.1 L454.5,485.9 L454.7,487.4 L455.0,488.9 L455.2,490.6 L455.4,492.1 L455.7,493.6 L455.9,495.2 L456.1,497.0 L456.4,498.6 L456.7,500.0 L457.0,501.7 L457.3,503.3 L457.7,504.8 L458.0,506.3 L458.4,507.7 L458.8,509.4 L459.2,511.0 L459.6,512.4 L460.0,513.8 L460.4,515.3 L460.8,517.2 L461.2,518.9 L461.5,520.3 L461.9,521.9 L462.4,523.5 L462.8,524.8 L463.2,526.4 L463.6,527.9 L464.0,529.7 L464.5,531.0 L464.9,532.7 L465.4,534.0 L465.9,535.7 L466.4,537.4 L466.8,538.6 L467.3,540.2 L467.8,541.5 L468.2,543.2 L468.7,544.8 L469.1,546.6 L469.5,548.0 L469.9,549.7 L470.3,551.2 L470.8,552.8 L471.2,554.1 L471.6,555.5 L472.1,557.2 L472.5,558.5 L473.0,560.2 L473.4,561.6 L473.9,563.3 L474.4,565.0 L474.9,566.7 L475.5,567.8 L476.0,569.1 L476.7,570.6 L477.4,572.5 L478.1,573.6 L478.8,575.1 L479.5,576.4 L480.3,577.5 L481.0,579.2 L481.7,580.6 L482.4,582.2 L483.0,583.9 L483.7,585.4 L484.4,586.5 L485.1,588.1 L486.0,589.5 L487.0,591.0 L488.2,591.2 L489.5,592.1 L490.8,593.5 L492.0,594.6 L493.1,595.7 L494.0,597.1 L494.8,598.5 L495.5,600.1 L496.2,601.6 L496.8,603.1 L497.6,604.7 L498.4,605.9 L499.3,606.7 L500.4,607.8 L501.6,609.4 L502.9,610.5 L504.3,611.3 L505.6,611.3 L506.9,611.9 L508.2,613.5 L509.5,614.4 L510.7,615.1 L511.9,617.0 L513.1,617.5 L514.3,619.3 L515.4,620.3 L516.5,621.8 L517.6,622.9 L518.7,623.3 L519.8,624.2 L520.9,626.0 L521.9,627.0 L522.9,628.2 L524.0,629.7 L525.0,630.9 L526.0,632.2 L527.0,633.3 L528.0,634.2 L529.0,635.8 L530.1,636.4 L531.4,637.9 L532.9,639.0 L534.4,638.5 L535.9,638.3 L537.5,640.0 L538.9,640.1 L540.2,641.3 L541.4,642.2 L542.5,643.0 L543.6,644.2 L544.6,645.3 L545.6,647.3 L546.5,648.9 L547.2,650.3 L547.9,651.4 L548.5,652.8 L549.2,654.0 L549.9,655.9 L550.8,657.7 L551.6,659.2 L552.5,660.5 L553.4,661.6 L554.4,662.6 L555.4,663.3 L556.5,664.1 L557.6,665.9 L558.6,667.7 L559.7,669.2 L560.9,669.7 L562.2,670.6 L563.6,671.9 L565.1,671.8 L566.6,672.6 L568.2,672.7 L569.8,672.5 L571.4,672.3 L573.0,671.8 L574.6,671.4 L576.2,671.5 L577.8,672.8 L579.4,673.1 L581.0,671.9 L582.6,672.8 L584.2,672.3 L585.8,673.0 L587.3,674.0 L588.9,674.3 L590.5,674.3 L592.1,674.2 L593.6,673.1 L595.1,671.2 L596.4,670.3 L597.8,670.0 L599.0,669.0 L600.1,668.3 L601.2,666.5 L602.2,665.7 L603.3,664.5 L604.4,663.2 L605.2,661.4 L605.7,660.0 L606.1,658.5 L606.4,657.1 L606.7,655.5 L606.9,653.9 L607.1,652.4 L607.4,650.7 L607.6,649.1 L607.8,647.6 L608.0,646.0 L608.2,644.4 L608.4,642.9 L608.6,641.3 L608.8,639.7 L609.0,638.2 L609.2,636.5 L609.4,634.9 L609.6,633.3 L609.8,631.7 L610.0,630.0 L610.2,628.4 L610.4,626.9 L610.6,625.4 L610.8,623.7 L611.0,622.2 L611.2,620.5 L611.4,618.9 L611.6,617.5 L611.9,615.9 L612.1,614.1 L612.3,612.6 L612.6,610.9 L612.8,609.5 L613.1,607.9 L613.4,606.4 L613.7,604.8 L614.1,603.1 L614.6,601.8 L615.1,600.3 L615.6,599.0 L616.1,597.1 L616.5,595.4 L616.9,594.0 L617.3,592.6 L617.6,591.0 L617.9,589.3 L618.2,587.7 L618.5,586.1 L618.8,584.5 L619.1,583.2 L619.4,581.6 L619.7,579.8 L620.0,578.4 L620.3,576.9 L620.6,575.2 L620.9,573.5 L621.2,572.0 L621.5,570.4 L621.9,568.7 L622.2,567.4 L622.5,565.7 L622.8,564.1 L623.1,562.5 L623.4,561.1 L623.7,559.5 L624.0,557.9 L624.3,556.2 L624.6,554.6 L624.9,553.0 L625.2,551.4 L625.5,549.9 L625.8,548.4 L626.1,546.9 L626.4,545.5 L626.7,543.9 L627.0,542.1 L627.3,540.6 L627.6,538.9 L627.9,537.4 L628.2,535.8 L628.6,534.3 L628.9,532.8 L629.2,531.2 L629.5,529.5 L629.8,528.0 L630.1,526.4 L630.4,525.0 L630.7,523.3 L631.0,521.6 L631.3,520.0 L631.7,518.5 L632.0,517.1 L632.3,515.4 L632.6,513.9 L632.9,512.5 L633.2,510.8 L633.6,509.3 L633.9,507.8 L634.2,506.3 L634.5,504.8 L634.9,503.1 L635.2,501.4 L635.5,499.8 L635.8,498.1 L636.1,496.5 L636.5,495.1 L636.8,493.5 L637.1,491.8 L637.4,490.3 L637.7,488.7 L638.0,487.3 L638.3,485.8 L638.6,484.2 L638.9,482.4 L639.2,480.8 L639.5,479.3 L639.7,477.9 L640.0,476.4 L640.3,474.8 L640.6,473.1 L641.0,471.4 L641.3,470.1 L641.7,468.3 L642.0,466.7 L642.4,465.3 L642.9,463.9 L643.3,462.1 L643.8,460.9 L644.2,459.3 L644.7,457.8 L645.1,456.0 L645.6,454.7 L646.0,452.9 L646.4,451.5 L646.9,449.7 L647.3,448.4 L647.7,446.9 L648.1,445.4 L648.5,443.7 L648.9,442.3 L649.3,440.5 L649.7,438.9 L650.1,437.3 L650.5,435.9 L651.0,434.2 L651.4,432.6 L651.8,431.4 L652.2,429.8 L652.7,428.2 L653.1,426.9 L653.6,425.2 L654.0,423.9 L654.4,422.5 L654.9,420.6 L655.3,418.9 L655.8,417.2 L656.3,415.8 L656.7,414.4 L657.2,413.2 L657.7,411.7 L658.2,410.2 L658.6,408.3 L659.1,407.1 L659.6,405.4 L660.2,404.0 L660.7,402.2 L661.3,401.1 L661.8,399.4 L662.4,397.7 L663.1,396.6 L663.7,395.1 L664.4,393.5 L665.1,392.0 L665.9,390.8 L666.6,389.2 L667.4,387.8 L668.2,386.4 L669.0,385.0 L669.9,383.5 L670.8,382.1 L671.8,381.4 L672.9,380.3 L674.1,378.7 L675.4,377.3 L676.8,376.7 L678.2,376.4 L679.7,376.0 L681.3,376.0 L682.9,376.0 L684.5,375.2 L686.1,374.5 L687.7,375.4 L689.3,375.7 L690.8,375.8 L692.3,377.1 L693.8,376.9 L695.2,377.2 L696.6,378.6 L698.0,379.3 L699.4,380.5 L700.7,380.7 L702.0,381.9 L703.3,383.1 L704.6,384.0 L705.9,384.5 L707.1,385.3 L708.3,386.5 L709.4,387.7 L710.6,389.6 L711.7,390.1 L712.8,391.8 L713.9,393.4 L715.0,394.3 L716.1,394.9 L717.2,396.3 L718.3,398.0 L719.4,398.8 L720.5,400.1 L721.6,400.7 L722.8,401.5 L724.1,402.5 L725.5,403.6 L727.0,405.0 L728.6,404.4 L730.2,403.8 L731.7,403.7 L733.2,403.7 L734.5,403.2 L735.9,402.3 L737.3,401.8 L738.8,401.0 L740.3,399.9 L741.9,400.7 L743.5,399.9 L745.1,398.9 L746.7,398.7 L748.3,398.8 L749.9,399.7 L751.5,399.4 L753.1,399.1 L754.7,399.9 L756.3,400.4 L757.8,400.7 L759.4,400.3 L761.0,401.4 L762.6,401.6 L764.1,401.7 L765.6,402.8 L767.0,402.7 L768.4,403.4 L769.6,404.6 L770.9,405.7 L772.3,406.6 L773.7,406.6 L775.2,407.9 L776.7,409.1 L778.3,408.7 L779.9,409.4 L781.5,408.6 L783.0,408.4 L784.6,409.2 L786.2,410.3 L787.8,410.4 L789.3,410.0 L790.9,410.0 L792.4,411.6 L793.9,412.2 L795.5,413.2 L797.0,412.8 L798.5,413.7 L800.0,413.5 L801.4,413.7 L802.9,414.6 L804.4,415.3 L805.8,416.7 L807.2,417.2 L808.6,417.7 L810.0,419.2 L811.4,420.4 L812.7,420.7 L814.0,421.9 L815.3,422.0 L816.6,422.9 L817.8,424.7 L819.0,425.5 L820.3,426.0 L821.4,426.9 L822.6,428.8 L823.8,429.6 L825.0,431.4 L826.1,432.7 L827.3,433.5 L828.4,434.7 L829.6,435.3 L830.7,436.7 L831.9,437.1 L833.0,438.4 L834.1,439.0 L835.2,440.3 L836.3,442.3 L837.4,443.5 L838.5,444.0 L839.5,445.8 L840.6,447.3 L841.6,448.7 L842.7,449.5 L843.7,450.2 L844.7,451.9 L845.7,453.1 L846.7,453.8 L847.7,455.2 L848.7,456.7 L849.7,458.3 L850.6,459.5 L851.6,460.4 L852.6,461.3 L853.6,462.3 L854.6,463.5 L855.7,465.0 L856.8,466.2 L857.9,468.1 L859.1,469.0 L860.2,470.4 L861.4,471.5 L862.5,472.6 L863.7,473.9 L864.7,475.2 L865.8,476.2 L866.7,477.2 L867.7,478.7 L868.6,479.5 L869.6,480.6 L870.5,481.7 L871.4,483.0 L872.3,484.2 L873.2,485.6 L874.0,487.0 L874.9,488.8 L875.8,490.6 L876.7,491.9 L877.5,493.2 L878.4,494.4 L879.3,495.3 L880.1,497.0 L881.0,498.4 L881.8,499.6 L882.6,501.3 L883.4,502.9 L884.3,503.7 L885.1,504.6 L886.0,506.1 L886.8,507.7 L887.7,509.1 L888.6,510.3 L889.4,511.5 L890.3,513.0 L891.2,514.0 L892.1,515.6 L893.0,517.5 L893.8,519.0 L894.7,520.3 L895.7,521.1 L896.6,522.3 L897.5,523.3 L898.4,524.6 L899.3,525.7 L900.3,526.9 L901.2,528.9 L902.2,530.0 L903.1,531.6 L904.0,532.9 L905.0,533.9 L905.9,535.5 L906.9,536.7 L907.8,537.7 L908.8,538.9 L909.7,540.4 L910.7,541.5 L911.6,543.0 L912.5,544.3 L913.5,546.1 L914.4,546.9 L915.3,548.6 L916.3,549.4 L917.2,550.4 L918.1,552.4 L919.1,553.9 L920.0,554.9 L920.9,556.6 L921.8,557.5 L922.7,558.7 L923.6,560.4 L924.5,561.9 L925.4,563.4 L926.2,564.3 L927.1,565.8 L927.9,567.4 L928.8,568.7 L929.6,569.6 L930.5,571.4 L931.5,572.7 L932.4,573.3 L933.4,574.6 L934.4,576.5 L935.4,577.8 L936.5,578.9 L937.5,579.4 L938.5,581.2 L939.6,582.0 L940.6,582.9 L941.7,584.6 L942.7,585.7 L943.8,587.5 L944.8,588.8 L945.9,589.2 L946.9,590.0 L948.0,591.2 L949.0,592.2 L950.0,593.6 L951.1,595.0 L952.1,595.9 L953.1,597.8 L954.2,599.4 L955.2,600.3 L956.2,601.6 L957.3,602.9 L958.3,604.6 L959.3,605.8 L960.4,606.3 L961.4,607.7 L962.4,608.7 L963.5,610.5 L964.5,611.9 L965.5,612.8 L966.6,614.4 L967.6,615.6 L968.6,616.8 L969.7,617.6 L970.7,619.1 L971.8,619.7 L972.8,621.4 L973.8,622.3 L974.9,624.0 L975.9,624.9 L977.0,625.8 L978.0,626.8 L979.1,628.0 L980.1,629.9 L981.2,630.9 L982.2,631.8 L983.3,633.6 L984.3,634.9 L985.4,635.3 L986.5,636.6 L987.5,638.4 L988.6,639.2 L989.7,639.8 L990.7,641.4 L991.8,642.9 L992.9,644.3 L994.0,645.4 L995.1,646.3 L996.2,647.3 L997.4,647.9 L998.6,649.8 L999.8,651.3 L1001.0,651.5 L1002.1,652.3 L1003.1,653.3 L1003.9,655.0 L1004.7,656.8 L1005.3,658.2 L1005.9,659.6 L1006.4,661.2 L1007.0,662.8 L1007.6,664.3 L1008.4,665.7 L1009.3,666.9 L1010.3,668.1 L1011.5,669.4 L1012.7,670.1 L1014.0,671.8 L1015.4,672.6 L1016.7,673.7 L1018.2,674.2 L1019.6,675.3 L1021.1,674.5 L1022.6,674.9 L1024.1,675.9 L1025.5,677.3 L1027.0,677.6 L1028.3,677.9 L1029.7,679.1 L1031.0,680.7 L1032.3,680.6 L1033.6,681.1 L1034.9,682.6 L1036.2,683.2 L1037.5,685.1 L1038.8,685.1 L1040.1,686.6 L1041.4,687.2 L1042.7,688.4 L1044.0,689.5 L1045.3,690.3 L1046.7,690.9 L1048.0,692.6 L1049.3,693.1 L1050.6,693.5 L1051.9,694.0 L1053.2,695.6 L1054.4,696.3 L1055.6,697.6 L1056.8,698.5 L1057.9,699.4 L1059.0,700.9 L1060.2,702.3 L1061.4,703.3 L1062.5,705.0 L1063.7,706.3 L1064.9,707.2 L1066.1,708.2 L1067.2,709.6 L1068.4,710.2 L1069.6,711.7 L1070.7,712.1 L1071.9,713.7 L1073.1,715.0 L1074.3,715.2 L1075.5,715.7 L1076.6,717.3 L1077.8,718.4 L1079.0,719.5 L1080.2,720.1 L1081.3,721.5 L1082.5,722.9 L1083.7,724.4 L1084.8,725.4 L1086.0,726.6 L1087.2,727.4 L1088.4,729.0 L1089.6,729.4 L1090.7,730.5 L1091.9,731.4 L1093.1,733.0 L1094.3,733.7 L1095.5,734.3 L1096.8,735.9 L1098.0,737.1 L1099.2,737.7 L1100.5,739.4 L1101.7,739.4 L1103.0,740.3 L1104.3,742.1 L1105.6,743.3 L1106.9,744.0 L1108.2,744.4 L1109.5,744.7 L1110.9,746.3 L1112.2,746.7 L1113.5,748.5 L1114.9,748.7 L1116.2,749.4 L1117.5,749.9 L1118.8,751.1 L1120.1,752.3 L1121.4,753.8 L1122.8,754.1 L1124.1,754.6 L1125.4,755.6 L1126.7,757.5 L1128.1,757.9 L1129.4,758.7 L1130.7,760.4 L1132.0,761.5 L1133.3,761.9 L1134.6,763.1 L1135.9,763.6 L1137.2,764.6 L1138.5,765.8 L1139.8,766.2 L1141.0,766.7 L1142.3,768.3 L1143.6,769.6 L1144.8,771.0 L1146.1,771.0 L1147.3,772.2 L1148.6,773.3 L1149.8,774.0 L1151.0,775.1 L1152.3,776.4 L1153.5,777.9 L1154.8,778.1 L1156.0,778.8 L1157.3,780.8 L1158.5,781.6 L1159.8,782.4 L1161.0,783.9 L1162.2,785.2 L1163.5,785.6 L1164.7,787.2 L1166.0,787.9 L1167.2,788.6 L1168.4,789.8 L1169.7,790.7 L1170.9,791.8 L1172.2,792.1 L1173.4,793.7 L1174.7,794.2 L1176.0,795.0 L1177.2,796.4 L1178.5,797.5 L1179.8,798.5 L1181.1,798.9 L1182.4,799.8 L1183.7,801.1 L1185.0,802.0 L1186.3,802.4 L1187.6,803.3 L1188.9,804.6 L1190.2,805.8 L1191.5,807.4 L1192.8,808.0 L1194.2,809.2 L1195.5,810.2 L1196.8,810.1 L1198.2,810.4 L1199.5,812.2 L1200.9,812.8 L1202.2,813.9 L1203.6,815.3 L1205.0,814.9 L1206.4,815.9 L1207.7,817.2 L1209.1,817.6 L1210.5,818.8 L1211.9,819.1 L1213.3,820.6 L1214.6,821.4 L1216.0,821.4 L1217.4,822.6 L1218.7,823.2 L1220.1,823.7 L1221.5,825.5 L1222.8,825.6 L1224.2,826.8 L1225.5,827.5 L1226.9,828.5 L1228.2,829.3 L1229.6,830.1 L1230.9,831.3 L1232.3,831.6 L1233.6,832.8 L1235.0,833.8 L1236.3,834.3 L1237.7,834.7 L1239.0,836.4 L1240.3,837.4 L1241.6,838.8 L1243.0,839.9 L1244.3,839.8 L1245.6,841.5 L1246.9,841.9 L1248.2,842.8 L1249.5,843.5 L1250.8,844.7 L1252.0,845.9 L1253.3,846.4 L1254.6,847.0 L1256.0,848.3 L1257.3,849.3 L1258.6,850.3 L1259.9,850.6 L1261.3,852.3 L1262.6,853.6 L1264.0,853.4 L1265.4,854.1 L1266.7,854.4 L1268.1,855.1 L1269.5,855.7 L1270.9,856.7 L1272.2,858.2 L1273.6,859.9 L1275.0,860.4 L1276.4,860.5 L1277.8,862.1 L1279.1,862.2 L1280.5,863.4 L1281.9,864.1 L1283.3,864.9 L1284.6,865.2 L1286.0,865.8 L1287.4,867.4 L1288.8,868.5 L1290.1,869.2 L1291.5,869.8 L1292.9,871.1 L1294.2,871.7 L1295.6,873.0 L1297.0,873.7 L1298.4,873.6 L1299.7,874.2 L1301.1,875.2 L1302.5,875.6 L1303.8,877.2 L1305.2,878.7 L1306.6,879.8 L1307.9,880.3 L1309.3,881.1 L1310.7,882.3 L1312.0,882.5 L1313.4,883.9 L1314.8,883.7 L1316.2,884.0 L1317.5,885.6 L1318.9,886.9 L1320.3,886.9 L1321.7,887.6 L1323.1,889.1 L1324.5,890.4 L1325.9,891.3 L1327.4,891.5 L1328.8,892.2 L1330.2,893.4 L1331.6,894.3 L1333.1,894.0 L1334.5,895.2 L1336.0,896.3 L1337.4,896.5 L1338.9,896.4 L1340.4,896.9 L1341.9,898.0 L1343.4,898.8 L1345.0,898.8 L1346.5,898.4 L1348.0,898.6 L1349.6,899.1 L1351.1,899.7 L1352.7,900.2 L1354.2,900.8 L1355.8,901.3 L1357.3,901.6 L1358.8,902.2 L1360.4,902.0 L1361.9,903.2 L1362.0,903.6"/>
<path fill="#F4A8AB" stroke="#F4A8AB" stroke-width="1.5" stroke-linejoin="round" d="M1359.0,895.5 L1370.7,896.9 L1379.2,901.7 L1385.7,905.4 L1392.1,904.9 L1399.5,906.5 L1404.9,909.7 L1410.2,907.0 L1416.6,906.5 L1421.5,912.4 L1423.1,904.9 L1426.3,897.4 L1432.7,893.1 L1438.0,896.3 L1440.2,904.9 L1442.3,910.2 L1447.6,913.4 L1456.2,915.6 L1466.9,920.9 L1475.4,922.5 L1480.8,920.9 L1486.1,916.6 L1491.5,915.6 L1508.6,915.6 L1508.6,943.4 L1491.5,943.4 L1488.3,942.3 L1482.9,944.4 L1475.4,944.4 L1466.9,942.3 L1461.5,940.2 L1455.1,939.1 L1450.9,933.7 L1445.5,934.8 L1439.1,939.1 L1433.7,934.8 L1431.1,925.7 L1427.3,928.4 L1424.1,933.7 L1419.9,936.4 L1413.4,936.4 L1407.0,937.0 L1401.7,934.8 L1397.4,929.5 L1396.3,924.1 L1392.1,920.9 L1385.7,922.5 L1378.2,919.9 L1372.8,914.5 L1366.4,910.2 L1359.0,909.5Z"/>
<path class="c" stroke="#F9DCDE" d="M409.0,708.5 L409.3,710.1 L409.5,711.7 L409.8,713.2 L410.0,714.9 L410.3,716.4 L410.5,718.0 L410.8,719.5 L411.1,721.2 L411.3,722.7 L411.6,724.3 L411.8,725.9 L412.1,727.5 L412.3,729.1 L412.6,730.7 L412.8,732.3 L413.1,733.8 L413.3,735.3 L413.6,737.0 L413.8,738.6 L414.1,740.1 L414.3,741.6 L414.6,743.3 L414.8,744.8 L415.1,746.4 L415.3,748.1 L415.6,749.5 L415.8,751.1 L416.1,752.7 L416.3,754.3 L416.5,755.9 L416.8,757.5 L417.0,759.2 L417.2,760.7 L417.5,762.3 L417.7,763.8 L417.9,765.3 L418.2,767.0 L418.4,768.6 L418.7,770.2 L418.9,771.9 L419.2,773.4 L419.4,774.9 L419.7,776.5 L420.0,778.2 L420.3,779.6 L420.7,781.1 L421.1,782.6 L421.5,784.1 L421.9,785.7 L422.3,787.4 L422.8,789.1 L423.2,790.4 L423.7,791.9 L424.2,793.6 L424.6,795.2 L425.1,796.6 L425.5,798.0 L425.9,799.7 L426.3,801.1 L426.6,802.8 L426.9,804.4 L427.2,805.9 L427.5,807.5 L427.8,809.0 L428.1,810.6 L428.4,812.3 L428.7,813.7 L429.1,815.2 L429.4,816.9 L429.7,818.4 L430.0,820.1 L430.3,821.6 L430.6,823.1 L431.0,824.6 L431.3,826.2 L431.8,827.7 L432.4,829.2 L433.4,830.7 L434.8,829.6 L436.0,829.2 L437.1,828.1 L438.4,827.3 L439.7,826.3 L441.1,825.4 L442.5,824.3 L443.7,823.2 L444.8,821.9 L445.8,820.7 L446.8,819.4 L447.6,818.1 L448.3,817.0 L448.9,815.5 L449.5,814.1 L450.4,812.6 L450.7,811.1 L450.8,809.5 L450.9,807.9 L450.9,806.3 L451.0,804.7 L451.0,803.2 L451.1,801.5 L451.1,799.9 L451.1,798.3 L451.1,796.7 L451.2,795.1 L451.2,793.5 L451.2,791.9 L451.2,790.3 L451.2,788.7 L451.2,787.1 L451.2,785.5 L451.3,783.9 L451.3,782.3 L451.3,780.7 L451.3,779.1 L451.3,777.5 L451.3,775.9 L451.3,774.3 L451.3,772.7 L451.3,771.1 L451.3,769.5 L451.3,767.9 L451.3,766.3 L451.3,764.7 L451.3,763.1 L451.3,761.5 L451.3,759.9 L451.3,758.3 L451.3,756.7 L451.3,755.1 L451.3,753.5 L451.3,751.9 L451.3,750.3 L451.3,748.7 L451.3,747.1 L451.3,745.5 L451.3,743.9 L451.3,742.3 L451.3,740.7 L451.3,739.1 L451.3,737.5 L451.3,735.9 L451.3,734.3 L451.3,732.7 L451.3,731.1 L451.3,729.5 L451.3,727.9 L451.3,726.3 L451.3,724.7 L451.3,723.1 L451.3,721.5 L451.3,719.9 L451.3,718.3 L451.3,716.7 L451.3,715.1 L451.3,713.5 L451.3,711.9 L451.3,710.3 L451.3,708.7 L451.3,707.1 L451.3,705.5 L451.3,703.9 L451.3,702.3 L451.3,700.7 L451.3,699.1 L451.3,697.5 L451.3,695.9 L451.3,694.3 L451.3,692.7 L451.3,691.1 L451.3,689.5 L451.3,687.9 L451.4,686.3 L451.4,684.7 L451.4,683.1 L451.4,681.5 L451.4,679.9 L451.4,678.3 L451.4,676.7 L451.4,675.1 L451.4,673.5 L451.4,671.9 L451.4,670.3 L451.4,668.7 L451.4,667.1 L451.4,665.5 L451.5,663.9 L451.5,662.3 L451.5,660.7 L451.5,659.1 L451.5,657.5 L451.5,655.9 L451.5,654.3 L451.5,652.7 L451.5,651.1 L451.5,649.5 L451.5,647.9 L451.5,646.3 L451.5,644.7 L451.6,643.1 L451.6,641.5 L451.6,639.9 L451.6,638.3 L451.6,636.7 L451.6,635.1 L451.6,633.5 L451.6,631.9 L451.6,630.3 L451.6,628.7 L451.6,627.1 L451.6,625.5 L451.7,623.9 L451.7,622.3 L451.7,620.7 L451.7,619.1 L451.7,617.5 L451.7,615.9 L451.7,614.3 L451.7,612.7 L451.7,611.1 L451.7,609.5 L451.8,607.9 L451.8,606.3 L451.8,604.7 L451.8,603.1 L451.8,601.5 L451.8,599.9 L451.8,598.3 L451.8,596.7 L451.8,595.1 L451.8,593.5 L451.9,591.9 L451.9,590.3 L451.9,588.7 L451.9,587.1 L451.9,585.5 L451.9,583.9 L451.9,582.3 L451.9,580.7 L452.0,579.1 L452.0,577.5 L452.0,575.9 L452.0,574.3 L452.0,572.7 L452.0,571.1 L452.0,569.5 L452.0,567.9 L452.1,566.3 L452.1,564.7 L452.1,563.1 L452.1,561.5 L452.1,559.9 L452.1,558.3 L452.1,556.7 L452.2,555.1 L452.2,553.5 L452.2,551.9 L452.2,550.3 L452.2,548.7 L452.2,547.1 L452.3,545.5 L452.3,543.9 L452.3,542.3 L452.3,540.7 L452.6,540.7 L453.1,542.3 L453.6,543.9 L454.1,545.4 L454.6,546.9 L455.0,548.5 L455.4,550.1 L455.8,551.7 L456.1,553.2 L456.5,554.8 L456.7,556.3 L457.0,557.8 L457.3,559.4 L457.5,561.0 L457.7,562.6 L457.8,564.2 L458.0,565.7 L458.2,567.3 L458.4,568.9 L458.6,570.5 L458.9,572.0 L459.1,573.7 L459.5,575.2 L459.8,576.9 L460.2,578.4 L460.5,580.1 L460.9,581.6 L461.3,583.0 L461.8,584.5 L462.2,586.2 L462.6,587.6 L463.1,589.2 L463.6,590.8 L464.1,592.3 L464.7,593.8 L465.2,595.3 L465.8,596.6 L466.4,598.2 L467.1,599.5 L467.7,601.1 L468.4,602.7 L469.0,603.9 L469.6,605.2 L470.3,607.0 L470.9,608.3 L471.5,609.9 L472.0,611.3 L472.6,612.7 L473.1,614.2 L473.7,615.7 L474.2,617.5 L474.7,619.1 L475.2,620.6 L475.7,622.0 L476.1,623.5 L476.5,625.0 L476.9,626.7 L477.2,628.3 L477.5,629.9 L477.7,631.5 L478.0,633.0 L478.3,634.6 L478.6,636.0 L478.9,637.5 L479.3,639.2 L479.8,640.9 L480.4,642.5 L481.1,643.8 L481.8,645.2 L482.5,646.8 L483.4,647.9 L484.2,649.4 L485.1,650.7 L486.1,651.9 L487.0,653.0 L488.1,654.0 L489.1,655.2 L490.1,656.5 L491.1,658.3 L492.0,659.7 L492.9,660.5 L493.7,662.2 L494.6,663.2 L495.4,664.7 L496.3,666.4 L497.3,667.9 L498.3,669.1 L499.4,670.5 L500.5,671.4 L501.6,671.9 L502.7,673.0 L503.7,674.5 L504.6,675.9 L505.3,677.5 L506.0,678.7 L506.6,680.4 L507.2,681.8 L508.0,683.2 L509.1,684.0 L510.3,685.0 L511.7,686.0 L513.0,687.3 L514.2,688.4 L515.3,689.5 L516.3,690.8 L517.3,691.7 L518.4,692.8 L519.4,694.5 L520.5,695.7 L521.6,696.7 L522.8,698.1 L524.0,699.2 L525.2,700.1 L526.2,701.4 L527.1,702.3 L527.9,703.9 L528.6,705.2 L529.3,706.5 L530.0,707.9 L530.7,709.2 L531.3,710.9 L532.0,712.6 L532.7,713.8 L533.5,715.4 L534.2,716.5 L535.0,717.9 L535.9,719.6 L536.7,720.9 L537.6,721.8 L538.5,723.3 L539.4,724.3 L540.3,726.0 L541.2,727.4 L542.0,728.8 L542.9,730.2 L543.7,731.2 L544.5,732.9 L545.3,734.4 L546.1,735.9 L546.9,736.9 L547.7,738.2 L548.5,739.8 L549.2,741.4 L550.0,742.7 L550.8,743.8 L551.7,745.2 L552.5,746.4 L553.4,747.8 L554.3,749.5 L555.2,750.8 L556.3,751.7 L557.3,753.3 L558.4,754.6 L559.5,755.5 L560.6,756.1 L561.8,757.5 L563.0,758.4 L564.2,759.2 L565.5,760.8 L566.8,761.6 L568.1,762.1 L569.5,762.9 L570.8,764.5 L572.3,764.8 L573.7,765.5 L575.2,765.9 L576.7,766.2 L578.2,766.6 L579.7,767.0 L581.2,767.9 L582.7,768.5 L584.3,769.3 L585.9,769.9 L587.5,770.1 L589.1,769.2 L590.6,769.1 L592.2,768.3 L593.7,767.8 L595.2,767.3 L596.6,766.6 L597.9,766.1 L599.0,764.8 L600.0,763.3 L600.9,762.2 L601.7,760.7 L602.3,759.5 L602.9,757.7 L603.5,756.2 L604.0,754.6 L604.5,753.2 L605.0,751.8 L605.4,750.1 L605.8,748.7 L606.1,747.2 L606.4,745.5 L606.7,744.0 L607.0,742.5 L607.3,741.0 L607.6,739.4 L607.9,737.8 L608.1,736.1 L608.3,734.5 L608.6,732.9 L608.7,731.3 L608.9,729.8 L609.1,728.1 L609.3,726.5 L609.5,725.0 L609.7,723.4 L609.8,721.8 L610.0,720.3 L610.2,718.6 L610.3,717.0 L610.5,715.4 L610.7,713.8 L610.9,712.3 L611.1,710.8 L611.4,709.2 L611.6,707.6 L611.9,705.9 L612.2,704.4 L612.6,702.7 L612.9,701.2 L613.2,699.7 L613.5,698.2 L613.8,696.5 L614.1,695.1 L614.4,693.5 L614.7,691.9 L615.0,690.2 L615.2,688.7 L615.5,687.0 L615.7,685.5 L615.9,683.9 L616.2,682.4 L616.4,680.8 L616.6,679.2 L616.8,677.6 L617.0,676.1 L617.2,674.4 L617.4,672.8 L617.6,671.1 L617.8,669.6 L618.0,668.0 L618.2,666.4 L618.4,664.9 L618.7,663.3 L618.9,661.7 L619.1,660.2 L619.3,658.6 L619.6,657.0 L619.8,655.5 L620.1,653.8 L620.3,652.2 L620.6,650.5 L620.8,649.0 L621.1,647.5 L621.3,646.0 L621.6,644.4 L621.9,642.9 L622.1,641.2 L622.4,639.7 L622.6,638.1 L622.9,636.5 L623.2,634.8 L623.4,633.4 L623.7,631.7 L623.9,630.1 L624.1,628.6 L624.4,627.0 L624.6,625.4 L624.9,623.8 L625.1,622.3 L625.3,620.6 L625.6,619.1 L625.8,617.5 L626.1,615.9 L626.3,614.3 L626.6,612.7 L626.9,611.2 L627.1,609.6 L627.4,608.0 L627.7,606.3 L628.0,604.8 L628.3,603.3 L628.7,601.7 L629.0,600.2 L629.3,598.7 L629.6,597.0 L630.0,595.3 L630.3,593.9 L630.6,592.3 L630.9,590.7 L631.3,589.3 L631.5,587.6 L631.8,585.9 L632.2,584.5 L632.5,582.9 L632.8,581.4 L633.1,579.7 L633.5,578.2 L633.8,576.7 L634.1,575.1 L634.5,573.4 L634.8,571.8 L635.1,570.3 L635.4,568.7 L635.8,567.3 L636.1,565.6 L636.4,564.2 L636.8,562.7 L637.1,561.1 L637.4,559.4 L637.7,557.9 L638.1,556.4 L638.4,554.8 L638.7,553.2 L639.1,551.6 L639.4,550.0 L639.7,548.4 L640.0,546.9 L640.4,545.4 L640.7,543.7 L641.0,542.1 L641.4,540.5 L641.7,539.1 L642.0,537.5 L642.4,536.0 L642.7,534.4 L643.0,532.8 L643.3,531.2 L643.7,529.8 L644.0,528.1 L644.3,526.4 L644.7,524.8 L645.0,523.3 L645.3,521.8 L645.6,520.2 L646.0,518.6 L646.3,517.2 L646.6,515.6 L647.0,514.1 L647.3,512.4 L647.6,511.0 L647.9,509.4 L648.3,507.8 L648.6,506.3 L648.9,504.6 L649.2,503.0 L649.6,501.5 L649.9,499.9 L650.2,498.4 L650.6,496.7 L650.9,495.3 L651.2,493.8 L651.5,492.1 L651.9,490.6 L652.2,488.9 L652.5,487.3 L652.9,485.8 L653.2,484.4 L653.5,482.8 L653.8,481.1 L654.2,479.5 L654.5,478.1 L654.8,476.5 L655.1,475.0 L655.5,473.3 L655.8,471.8 L656.1,470.1 L656.4,468.5 L656.8,467.0 L657.1,465.4 L657.4,463.9 L657.8,462.3 L658.1,460.7 L658.4,459.3 L658.7,457.8 L659.0,456.1 L659.3,454.6 L659.6,452.9 L659.9,451.3 L660.2,449.8 L660.5,448.2 L660.8,446.5 L661.1,444.9 L661.5,443.6 L661.9,441.9 L662.3,440.6 L662.7,439.1 L663.1,437.4 L663.6,436.0 L664.0,434.3 L664.5,432.8 L664.9,431.1 L665.4,429.6 L665.9,427.9 L666.4,426.4 L667.0,425.2 L667.5,423.7 L668.1,422.0 L668.7,420.7 L669.3,419.4 L669.9,418.0 L670.6,416.3 L671.2,414.6 L671.9,413.4 L672.7,412.0 L673.4,410.3 L674.2,409.0 L675.0,407.7 L675.9,406.6 L676.8,405.3 L677.9,403.8 L679.0,402.3 L680.2,401.0 L681.5,400.1 L682.9,399.5 L684.2,398.7 L685.5,398.5 L687.0,397.6 L688.5,397.3 L690.0,396.9 L691.6,396.7 L693.2,396.8 L694.8,396.8 L696.4,396.5 L698.0,396.0 L699.6,396.2 L701.2,395.4 L702.8,395.0 L704.4,394.5 L705.9,394.2 L707.5,393.8 L709.1,393.5 L710.6,393.1 L712.1,393.1 L713.5,393.0 L715.0,392.1 L716.4,391.4 L717.8,390.5 L719.3,389.3 L720.8,389.2 L722.3,388.7 L723.8,388.0 L725.3,387.8 L726.7,387.3 L728.1,385.8 L729.3,384.4 L730.5,383.5 L731.6,382.5 L732.6,381.4 L733.6,380.0 L734.6,378.6 L735.5,377.4 L736.4,375.9 L737.4,374.8 L738.3,373.8 L739.2,372.7 L740.1,371.4 L741.0,369.6 L742.0,368.3 L742.9,366.8 L743.9,365.5 L744.9,364.1 L745.8,362.8 L746.8,362.0 L747.8,360.6 L748.8,359.6 L749.8,358.3 L750.8,356.9 L751.8,355.9 L752.9,354.6 L753.9,353.2 L755.0,351.9 L756.1,350.9 L757.2,349.6 L758.4,348.6 L759.5,347.5 L760.6,346.8 L761.8,345.2 L762.9,344.4 L764.0,342.9 L765.1,341.5 L766.2,340.9 L767.3,339.9 L768.4,338.5 L769.4,337.6 L770.5,336.1 L771.6,334.8 L772.7,333.9 L773.7,332.9 L774.8,331.8 L775.9,330.2 L776.9,329.2 L778.0,328.2 L779.0,326.9 L780.1,325.4 L781.1,324.5 L782.2,323.3 L783.2,321.5 L784.2,320.3 L785.3,319.5 L786.3,318.3 L787.3,317.1 L788.3,315.3 L789.3,314.5 L790.4,312.9 L791.4,311.6 L792.5,310.7 L793.5,309.4 L794.6,308.6 L795.7,307.5 L796.7,305.7 L797.8,304.2 L798.9,303.0 L800.0,301.7 L801.1,300.7 L802.2,299.7 L803.3,298.3 L804.4,297.7 L805.6,296.8 L806.7,295.5 L807.9,294.4 L809.1,293.4 L810.3,292.7 L811.5,291.7 L812.7,290.1 L813.9,289.2 L815.2,288.0 L816.4,287.5 L817.7,286.7 L819.0,285.4 L820.3,284.8 L821.6,283.9 L822.9,283.0 L824.2,281.7 L825.6,281.1 L826.9,279.6 L828.3,279.3 L829.6,278.2 L831.0,277.8 L832.4,276.8 L833.9,275.7 L835.3,274.9 L836.8,274.2 L838.3,274.2 L839.8,273.5 L841.3,272.7 L842.8,272.9 L844.3,272.5 L845.9,271.3 L847.4,271.0 L849.0,271.4 L850.6,270.8 L852.2,270.0 L853.8,270.4 L855.4,270.8 L857.0,271.2 L858.6,271.4 L860.1,271.4 L861.7,271.6 L863.2,271.6 L864.8,272.8 L866.3,273.7 L867.8,273.3 L869.4,273.5 L870.9,273.7 L872.4,274.5 L873.9,275.7 L875.4,276.0 L876.9,276.3 L878.4,277.0 L879.9,277.8 L881.4,278.4 L882.9,279.0 L884.3,279.5 L885.8,280.2 L887.2,281.2 L888.5,281.7 L889.9,283.2 L891.2,284.0 L892.6,285.0 L893.9,285.8 L895.2,287.0 L896.5,287.1 L897.7,288.0 L899.0,289.2 L900.3,290.6 L901.5,291.3 L902.8,292.0 L904.1,293.2 L905.3,294.7 L906.5,295.0 L907.8,295.7 L909.0,297.2 L910.2,298.0 L911.4,299.6 L912.6,300.1 L913.8,301.6 L914.9,302.5 L916.1,303.8 L917.2,305.0 L918.3,306.1 L919.4,307.1 L920.5,308.7 L921.7,309.6 L922.8,310.4 L923.9,311.3 L925.0,312.8 L926.1,313.8 L927.2,315.1 L928.3,316.1 L929.4,317.1 L930.6,318.5 L931.7,319.8 L932.8,320.9 L933.9,322.5 L935.0,323.8 L936.1,324.8 L937.2,325.9 L938.3,327.2 L939.4,328.0 L940.5,329.5 L941.6,330.2 L942.7,331.8 L943.8,333.0 L944.9,333.6 L946.0,334.5 L947.1,336.0 L948.1,337.1 L949.2,338.3 L950.3,339.2 L951.4,340.6 L952.5,342.0 L953.6,343.3 L954.7,344.4 L955.8,345.7 L956.9,346.6 L958.1,348.1 L959.2,348.8 L960.3,350.0 L961.4,351.0 L962.6,352.5 L963.7,353.4 L964.8,354.2 L965.9,355.7 L967.0,357.0 L968.1,357.9 L969.2,359.5 L970.3,360.0 L971.4,361.1 L972.5,362.8 L973.6,364.2 L974.7,365.2 L975.8,366.0 L976.9,366.9 L978.0,368.5 L979.1,369.3 L980.3,371.0 L981.4,371.8 L982.5,372.8 L983.6,373.7 L984.7,375.0 L985.8,376.3 L986.9,377.8 L988.1,378.6 L989.2,379.5 L990.3,380.7 L991.4,382.4 L992.5,383.3 L993.6,384.4 L994.7,386.0 L995.9,387.3 L997.0,388.1 L998.1,389.4 L999.2,390.3 L1000.3,391.5 L1001.4,392.8 L1002.5,393.6 L1003.6,394.5 L1004.8,396.0 L1005.9,397.4 L1007.0,398.7 L1008.1,399.3 L1009.2,400.6 L1010.3,401.8 L1011.4,402.8 L1012.5,404.0 L1013.6,405.3 L1014.7,406.8 L1015.8,407.5 L1016.9,408.4 L1018.0,410.2 L1019.1,411.2 L1020.2,412.3 L1021.3,413.7 L1022.4,415.1 L1023.4,415.9 L1024.5,417.4 L1025.6,418.4 L1026.7,419.3 L1027.9,420.6 L1029.0,421.7 L1030.1,423.0 L1031.2,423.6 L1032.3,425.2 L1033.4,426.0 L1034.5,427.1 L1035.6,428.5 L1036.7,429.7 L1037.8,430.9 L1038.9,431.8 L1040.0,432.9 L1041.1,434.3 L1042.2,435.4 L1043.3,436.3 L1044.3,437.5 L1045.4,438.9 L1046.5,440.3 L1047.5,441.9 L1048.6,442.9 L1049.6,444.3 L1050.7,445.6 L1051.7,446.2 L1052.8,447.1 L1053.8,448.8 L1054.9,449.9 L1055.9,451.2 L1057.0,452.8 L1058.0,453.4 L1059.1,454.6 L1060.1,456.1 L1061.1,457.1 L1062.2,458.6 L1063.2,459.5 L1064.3,461.1 L1065.3,462.3 L1066.4,463.0 L1067.4,464.5 L1068.4,465.5 L1069.5,466.6 L1070.5,468.3 L1071.5,469.2 L1072.6,470.5 L1073.6,471.7 L1074.6,473.0 L1075.7,474.2 L1076.7,475.4 L1077.7,476.8 L1078.8,477.7 L1079.8,479.1 L1080.9,480.4 L1081.9,481.4 L1083.0,482.3 L1084.0,484.0 L1085.1,485.2 L1086.2,486.7 L1087.3,488.0 L1088.3,488.6 L1089.4,490.2 L1090.6,491.0 L1091.7,492.1 L1092.8,493.1 L1093.9,494.4 L1095.0,495.7 L1096.2,496.6 L1097.3,497.5 L1098.4,498.9 L1099.6,500.1 L1100.7,501.3 L1101.8,502.1 L1102.9,503.8 L1104.0,505.1 L1105.1,505.7 L1106.2,506.8 L1107.3,507.7 L1108.4,508.8 L1109.4,509.9 L1110.5,511.2 L1111.6,512.7 L1112.7,514.4 L1113.8,515.4 L1114.8,516.2 L1115.9,517.8 L1117.0,518.6 L1118.0,520.0 L1119.1,521.2 L1120.2,522.4 L1121.2,523.3 L1122.3,524.4 L1123.3,525.9 L1124.4,527.3 L1125.4,528.4 L1126.5,529.5 L1127.5,531.0 L1128.6,532.1 L1129.6,533.6 L1130.6,534.8 L1131.7,535.5 L1132.7,536.6 L1133.7,537.9 L1134.7,539.0 L1135.7,540.6 L1136.7,542.2 L1137.7,543.6 L1138.7,544.7 L1139.7,545.9 L1140.7,547.4 L1141.6,548.3 L1142.6,549.9 L1143.6,550.6 L1144.6,551.6 L1145.6,553.3 L1146.6,554.8 L1147.6,555.6 L1148.6,556.9 L1149.6,558.5 L1150.6,560.0 L1151.6,561.3 L1152.6,562.3 L1153.6,563.4 L1154.6,564.9 L1155.7,566.3 L1156.7,566.9 L1157.7,568.5 L1158.7,569.9 L1159.8,570.9 L1160.8,571.8 L1161.8,573.0 L1162.9,574.4 L1163.9,575.8 L1164.9,576.8 L1165.9,577.7 L1166.9,578.8 L1168.0,580.1 L1169.0,581.4 L1170.0,582.7 L1170.9,584.1 L1171.9,585.4 L1172.9,586.6 L1173.8,588.0 L1174.8,589.0 L1175.7,590.3 L1176.6,592.0 L1177.5,593.5 L1178.4,594.4 L1179.4,595.8 L1180.2,597.3 L1181.1,598.3 L1182.0,599.7 L1182.9,601.2 L1183.8,602.4 L1184.6,603.7 L1185.5,604.8 L1186.4,606.4 L1187.3,607.8 L1188.2,609.0 L1189.1,610.5 L1190.0,611.8 L1190.9,612.9 L1191.8,614.4 L1192.8,616.0 L1193.7,617.3 L1194.6,618.8 L1195.6,620.0 L1196.5,620.8 L1197.5,622.5 L1198.4,623.5 L1199.4,624.6 L1200.4,625.8 L1201.4,627.2 L1202.4,628.5 L1203.4,629.6 L1204.4,630.7 L1205.4,631.9 L1206.4,633.2 L1207.4,634.4 L1208.5,635.4 L1209.5,636.9 L1210.6,638.3 L1211.6,639.7 L1212.7,641.2 L1213.7,641.9 L1214.8,643.3 L1215.8,644.4 L1216.9,645.5 L1218.0,646.5 L1219.0,647.5 L1220.1,648.6 L1221.2,649.9 L1222.2,651.7 L1223.3,652.9 L1224.4,653.8 L1225.4,655.2 L1226.5,656.6 L1227.6,657.7 L1228.6,658.7 L1229.7,660.2 L1230.8,661.3 L1231.8,662.3 L1232.9,663.9 L1234.0,665.1 L1235.0,666.3 L1236.1,667.3 L1237.1,668.8 L1238.2,669.6 L1239.3,670.6 L1240.3,671.5 L1241.4,673.2 L1242.5,674.6 L1243.5,675.5 L1244.6,677.1 L1245.7,678.0 L1246.7,678.7 L1247.8,680.4 L1248.9,681.2 L1249.9,682.9 L1251.0,684.0 L1252.0,685.2 L1253.1,686.3 L1254.1,687.5 L1255.2,689.1 L1256.2,690.3 L1257.3,691.4 L1258.3,692.3 L1259.3,693.4 L1260.4,695.0 L1261.4,696.1 L1262.4,697.0 L1263.4,698.3 L1264.4,700.0 L1265.4,700.7 L1266.4,702.4 L1267.4,703.4 L1268.4,704.6 L1269.4,706.0 L1270.4,707.2 L1271.4,708.5 L1272.4,709.8 L1273.4,710.8 L1274.4,711.9 L1275.4,713.7 L1276.4,714.5 L1277.3,716.2 L1278.3,717.2 L1279.3,718.3 L1280.3,719.9 L1281.3,721.1 L1282.3,722.7 L1283.2,723.6 L1284.2,725.0 L1285.2,725.8 L1286.2,727.3 L1287.2,728.5 L1288.1,730.0 L1289.1,731.5 L1290.1,732.8 L1291.0,733.6 L1292.0,734.8 L1292.9,736.4 L1293.8,737.5 L1294.8,738.7 L1295.7,740.4 L1296.7,741.9 L1297.7,743.0 L1298.7,744.1 L1299.7,745.5 L1300.7,746.6 L1301.8,747.7 L1302.8,748.8 L1303.9,749.8 L1305.0,751.4 L1306.0,752.6 L1307.1,753.9 L1308.2,755.1 L1309.3,755.9 L1310.3,757.2 L1311.4,758.0 L1312.5,759.1 L1313.6,760.6 L1314.7,762.2 L1315.8,763.5 L1316.8,764.7 L1317.9,765.3 L1319.0,766.5 L1320.1,767.8 L1321.2,768.9 L1322.3,770.4 L1323.4,771.3 L1324.5,772.7 L1325.6,774.0 L1326.7,775.0 L1327.8,776.0 L1328.9,777.1 L1330.0,778.7 L1331.1,779.4 L1332.2,780.2 L1333.3,781.4 L1334.4,782.6 L1335.5,783.8 L1336.7,784.8 L1337.8,786.2 L1338.9,787.1 L1340.1,788.6 L1341.2,789.4 L1342.3,790.4 L1343.5,792.0 L1344.7,793.4 L1345.8,794.6 L1347.0,795.6 L1348.1,796.5 L1349.3,797.5 L1350.5,798.9 L1351.6,799.5 L1352.8,800.5 L1354.0,802.1 L1355.1,802.9 L1356.3,803.9 L1357.5,804.8 L1358.6,806.0 L1359.8,807.2 L1361.0,808.3 L1362.0,809.4"/>
<path fill="#F9DCDE" stroke="#F9DCDE" stroke-width="1.5" stroke-linejoin="round" d="M1359.0,797.2 L1370.7,808.6 L1380.3,818.2 L1387.8,816.0 L1397.4,818.2 L1404.9,820.3 L1411.3,819.2 L1417.7,824.6 L1420.9,826.7 L1428.4,821.9 L1434.8,826.7 L1439.1,835.3 L1442.3,848.1 L1445.5,857.7 L1450.9,862.0 L1456.2,866.3 L1462.6,871.6 L1466.9,877.0 L1472.2,880.2 L1480.8,878.0 L1486.1,882.3 L1490.4,890.9 L1494.7,896.2 L1502.2,901.5 L1505.9,906.9 L1506.6,917.6 L1507.0,971.0 L1493.1,971.0 L1492.5,922.9 L1490.4,915.4 L1484.0,910.1 L1477.6,906.9 L1471.2,904.2 L1461.5,903.7 L1458.3,896.2 L1454.1,890.9 L1450.9,887.6 L1445.5,884.4 L1444.4,877.5 L1439.1,874.8 L1433.7,869.5 L1432.7,861.5 L1427.3,863.1 L1420.9,864.7 L1415.6,863.1 L1410.2,857.7 L1406.0,852.4 L1399.5,846.0 L1395.3,838.5 L1387.8,837.4 L1381.4,840.6 L1376.0,839.5 L1370.7,829.9 L1366.4,821.4 L1359.0,815.8Z"/>
<path class="c" stroke="#472C7A" d="M406.2,651.4 L407.6,652.4 L409.0,653.3 L410.4,653.5 L411.9,654.8 L413.3,655.0 L414.7,655.9 L416.2,656.1 L417.7,657.2 L419.1,657.4 L420.6,658.3 L422.1,659.1 L423.6,659.8 L425.1,660.1 L426.6,661.0 L428.1,661.9 L429.5,661.8 L431.0,662.5 L432.5,663.6 L433.9,664.3 L435.2,664.9 L436.6,665.5 L437.9,666.8 L439.2,667.2 L440.5,668.6 L441.6,669.8 L442.8,670.5 L443.9,671.6 L445.1,672.6 L446.3,673.8 L447.6,674.7 L448.9,676.0 L450.3,677.0 L451.6,677.4 L452.9,678.7 L453.9,679.5 L454.7,680.8 L455.4,682.4 L456.1,684.0 L456.8,685.5 L457.4,687.1 L458.2,688.5 L459.1,689.6 L460.2,690.9 L461.4,692.1 L462.8,692.3 L464.3,692.9 L465.9,693.0 L467.5,693.0 L469.0,693.1 L470.5,692.7 L471.9,692.3 L473.3,691.1 L474.9,691.1 L476.5,691.9 L478.0,692.4 L479.5,692.7 L480.9,693.1 L482.3,694.1 L483.5,695.0 L484.5,696.4 L485.5,697.7 L486.5,698.8 L487.6,700.2 L488.8,701.1 L490.2,701.9 L491.7,702.7 L493.3,702.5 L494.9,702.2 L496.5,702.5 L498.1,702.3 L499.6,702.3 L501.1,701.3 L502.6,700.7 L504.2,700.0 L505.8,700.3 L507.3,700.7 L508.8,701.4 L510.2,702.5 L511.6,702.8 L512.9,704.3 L514.2,705.3 L515.5,706.4 L516.7,707.2 L518.0,708.1 L519.4,708.7 L520.8,709.3 L522.3,709.8 L523.8,710.3 L525.4,710.5 L527.0,710.6 L528.5,710.6 L529.9,710.0 L531.4,709.5 L533.0,708.6 L534.6,708.6 L536.2,709.1 L537.7,709.8 L539.2,710.1 L540.7,710.8 L542.2,711.8 L543.7,711.9 L545.1,712.5 L546.6,713.5 L548.0,713.9 L549.5,714.8 L550.9,715.4 L552.1,716.0 L553.6,716.8 L555.2,716.4 L556.7,716.7 L558.3,716.6 L559.8,716.0 L561.4,715.9 L562.9,714.8 L564.4,714.3 L565.9,713.5 L567.4,712.8 L569.0,713.0 L570.5,712.0 L572.0,712.2 L573.6,711.7 L575.1,711.3 L576.6,710.2 L578.1,710.1 L579.5,709.5 L580.9,708.1 L582.2,707.1 L583.4,706.0 L584.6,705.1 L585.8,703.8 L586.9,703.1 L588.0,702.0 L589.2,701.0 L590.3,699.6 L591.4,698.6 L592.5,697.4 L593.5,696.2 L594.5,694.9 L595.4,693.9 L596.3,692.6 L597.2,691.3 L598.1,689.7 L599.0,688.1 L599.8,686.7 L600.6,685.2 L601.4,684.3 L602.2,682.7 L603.0,681.5 L603.7,679.8 L604.3,678.5 L605.0,676.9 L605.6,675.4 L606.2,674.1 L606.8,672.6 L607.3,671.2 L607.8,669.5 L608.3,667.9 L608.8,666.3 L609.3,664.8 L609.8,663.5 L610.2,661.9 L610.7,660.4 L611.2,658.8 L611.6,657.3 L612.1,655.8 L612.5,654.2 L613.0,652.5 L613.4,651.0 L613.9,649.6 L614.3,648.1 L614.7,646.5 L615.2,644.9 L615.6,643.3 L616.0,641.9 L616.5,640.4 L616.9,638.8 L617.3,637.2 L617.7,635.6 L618.1,634.3 L618.6,632.7 L619.0,631.2 L619.4,629.5 L619.8,628.0 L620.2,626.5 L620.6,625.0 L621.0,623.4 L621.4,621.7 L621.8,620.3 L622.1,618.8 L622.5,617.2 L622.9,615.6 L623.3,613.9 L623.6,612.4 L624.0,611.0 L624.3,609.3 L624.6,607.8 L625.0,606.2 L625.3,604.6 L625.6,603.0 L626.0,601.5 L626.3,600.0 L626.6,598.5 L627.0,596.8 L627.3,595.3 L627.6,593.8 L628.0,592.2 L628.3,590.6 L628.6,588.9 L629.0,587.4 L629.3,585.9 L629.7,584.3 L630.0,582.6 L630.3,581.0 L630.7,579.6 L631.0,578.2 L631.4,576.5 L631.7,575.0 L632.1,573.4 L632.4,571.8 L632.8,570.2 L633.1,568.7 L633.5,567.2 L633.8,565.5 L634.2,564.1 L634.5,562.4 L634.9,560.9 L635.2,559.4 L635.6,557.7 L635.9,556.2 L636.3,554.5 L636.6,553.0 L636.9,551.5 L637.3,550.0 L637.6,548.4 L638.0,546.9 L638.3,545.4 L638.7,543.8 L639.0,542.2 L639.4,540.5 L639.7,539.0 L640.1,537.4 L640.4,535.9 L640.8,534.3 L641.1,532.8 L641.5,531.3 L641.8,529.8 L642.2,528.1 L642.5,526.4 L642.9,524.9 L643.2,523.5 L643.6,521.8 L643.9,520.3 L644.3,518.7 L644.6,517.0 L645.0,515.6 L645.3,514.0 L645.7,512.4 L646.1,511.0 L646.4,509.4 L646.8,507.8 L647.1,506.3 L647.5,504.7 L647.8,503.2 L648.2,501.5 L648.6,499.9 L648.9,498.4 L649.3,496.9 L649.6,495.3 L650.0,493.8 L650.4,492.2 L650.7,490.7 L651.1,489.2 L651.5,487.7 L651.9,486.2 L652.3,484.5 L652.7,482.8 L653.1,481.3 L653.6,479.9 L654.1,478.5 L654.9,477.1 L655.7,475.5 L656.3,473.9 L656.9,472.6 L657.5,471.1 L658.2,469.5 L658.8,468.4 L659.6,466.7 L660.4,465.6 L661.5,464.5 L662.7,463.8 L664.0,463.8 L665.2,464.3 L666.2,465.4 L667.1,467.1 L667.8,468.4 L668.6,469.8 L669.3,471.3 L669.9,472.8 L670.6,474.3 L671.3,475.6 L672.0,476.9 L672.8,478.4 L673.6,479.6 L674.3,481.2 L674.9,482.8 L675.5,484.1 L676.0,485.5 L676.4,487.3 L676.9,488.7 L677.3,490.3 L677.7,491.8 L678.0,493.3 L678.4,494.9 L678.8,496.4 L679.1,498.1 L679.5,499.7 L679.8,501.3 L680.1,502.8 L680.5,504.3 L680.8,505.8 L681.1,507.5 L681.5,509.2 L681.8,510.8 L682.1,512.3 L682.4,513.8 L682.8,515.4 L683.1,516.8 L683.4,518.3 L683.7,520.0 L684.0,521.7 L684.3,523.3 L684.6,524.8 L685.0,526.3 L685.3,528.0 L685.6,529.4 L685.9,531.1 L686.2,532.6 L686.5,534.2 L686.8,535.7 L687.1,537.2 L687.4,538.8 L687.7,540.4 L687.9,542.1 L688.2,543.7 L688.5,545.1 L688.8,546.8 L689.1,548.3 L689.3,549.9 L689.6,551.6 L689.9,553.2 L690.1,554.7 L690.4,556.4 L690.6,557.9 L690.9,559.3 L691.1,560.9 L691.4,562.5 L691.6,564.1 L691.9,565.8 L692.1,567.3 L692.3,568.9 L692.6,570.5 L692.8,572.1 L693.1,573.6 L693.3,575.1 L693.6,576.8 L693.8,578.4 L694.1,580.0 L694.3,581.6 L694.6,583.1 L694.9,584.7 L695.1,586.2 L695.4,587.9 L695.6,589.5 L695.9,591.0 L696.2,592.7 L696.4,594.2 L696.7,595.8 L696.9,597.4 L697.2,598.9 L697.5,600.5 L697.7,602.1 L698.0,603.6 L698.2,605.2 L698.5,606.7 L698.8,608.4 L699.0,610.0 L699.3,611.5 L699.5,613.2 L699.8,614.6 L700.1,616.2 L700.3,617.9 L700.6,619.5 L700.8,620.9 L701.1,622.6 L701.4,624.1 L701.6,625.7 L701.9,627.3 L702.1,628.9 L702.4,630.5 L702.6,632.0 L702.8,633.7 L703.1,635.3 L703.3,636.9 L703.5,638.4 L703.7,639.9 L703.9,641.6 L704.1,643.2 L704.3,644.8 L704.5,646.3 L704.7,647.9 L704.9,649.4 L705.2,651.0 L705.4,652.7 L705.7,654.3 L705.9,655.8 L706.2,657.4 L706.4,659.1 L706.7,660.6 L707.0,662.0 L707.2,663.7 L707.5,665.2 L707.8,666.8 L708.0,668.5 L708.3,670.0 L708.6,671.5 L708.9,673.1 L709.2,674.8 L709.4,676.3 L709.7,677.9 L710.0,679.4 L710.3,680.9 L710.6,682.5 L710.9,684.0 L711.2,685.7 L711.5,687.3 L711.8,688.9 L712.1,690.5 L712.4,692.1 L712.8,693.6 L713.1,695.2 L713.4,696.6 L713.8,698.2 L714.2,699.8 L714.5,701.3 L714.9,703.0 L715.3,704.5 L715.8,705.9 L716.2,707.6 L716.6,709.0 L717.1,710.7 L717.6,712.1 L718.0,713.6 L718.5,715.0 L719.0,716.6 L719.4,718.3 L719.9,719.7 L720.4,721.3 L720.8,723.0 L721.3,724.4 L721.7,726.0 L722.1,727.6 L722.5,729.2 L722.9,730.8 L723.3,732.3 L723.6,733.7 L724.0,735.3 L724.4,736.7 L724.7,738.2 L725.1,739.9 L725.4,741.5 L725.8,743.0 L726.1,744.6 L726.5,746.1 L726.8,747.8 L727.1,749.4 L727.5,750.9 L727.8,752.4 L728.2,753.9 L728.5,755.5 L728.8,757.2 L729.2,758.8 L729.5,760.4 L729.9,761.9 L730.2,763.3 L730.6,765.0 L730.9,766.4 L731.3,768.0 L731.7,769.6 L732.0,771.2 L732.4,772.7 L732.8,774.4 L733.1,775.9 L733.5,777.5 L733.9,779.0 L734.2,780.6 L734.6,782.0 L735.0,783.6 L735.3,785.1 L735.7,786.8 L736.1,788.4 L736.4,789.9 L736.8,791.4 L737.2,793.0 L737.6,794.4 L738.0,796.0 L738.4,797.4 L738.8,799.1 L739.2,800.6 L739.6,802.1 L740.0,803.8 L740.5,805.3 L740.9,806.8 L741.3,808.5 L741.8,810.0 L742.3,811.6 L742.7,813.2 L743.2,814.5 L743.7,816.0 L744.2,817.4 L744.7,819.0 L745.2,820.6 L745.7,822.3 L746.2,823.8 L746.8,825.3 L747.3,826.6 L747.8,828.3 L748.4,829.7 L748.9,831.3 L749.5,832.7 L750.0,834.4 L750.6,835.7 L751.2,837.1 L751.7,838.8 L752.3,840.3 L752.9,841.7 L753.5,843.1 L754.1,844.7 L754.7,846.1 L755.3,847.6 L755.9,849.1 L756.6,850.5 L757.2,851.9 L757.9,853.3 L758.5,855.0 L759.2,856.5 L759.9,857.7 L760.6,859.1 L761.2,860.6 L762.0,862.1 L762.7,863.6 L763.4,865.1 L764.1,866.6 L764.9,867.8 L765.6,869.0 L766.4,870.7 L767.1,872.1 L767.9,873.4 L768.7,875.1 L769.4,876.2 L770.2,877.4 L771.0,879.0 L771.8,880.4 L772.7,881.9 L773.5,883.0 L774.3,884.5 L775.2,885.9 L776.1,887.2 L777.0,888.3 L778.0,889.5 L778.9,890.8 L779.9,892.1 L780.9,893.7 L782.0,894.5 L783.1,896.0 L784.3,897.4 L785.5,898.3 L786.8,898.9 L788.0,900.0 L789.3,901.3 L790.6,902.0 L792.0,903.0 L793.3,903.5 L794.6,904.3 L795.9,905.2 L797.3,906.3 L798.6,907.6 L800.0,907.9 L801.4,908.4 L802.7,909.3 L804.1,910.5 L805.5,911.5 L806.8,912.3 L808.2,913.2 L809.6,913.9 L811.0,914.3 L812.4,915.7 L813.8,916.1 L815.2,916.5 L816.6,917.2 L818.0,918.0 L819.4,919.3 L820.8,919.8 L822.2,920.4 L823.6,921.5 L825.0,922.4 L826.4,923.2 L827.9,923.6 L829.3,924.8 L830.7,925.5 L832.1,926.0 L833.6,927.1 L835.0,927.3 L836.4,927.9 L837.9,928.8 L839.3,929.6 L840.7,930.3 L842.2,930.6 L843.6,931.7 L845.0,932.8 L846.5,933.1 L848.0,934.0 L849.4,934.1 L850.9,934.5 L852.4,935.4 L853.9,936.5 L855.4,936.7 L857.0,936.7 L858.5,936.8 L860.1,937.8 L861.6,938.4 L863.2,939.1 L864.7,939.0 L866.2,939.6 L867.8,939.6 L869.3,939.7 L870.9,940.3 L872.4,940.8 L873.9,941.6 L875.5,941.9 L877.0,942.1 L878.6,943.0 L880.1,943.6 L881.7,943.7 L883.3,944.2 L884.8,943.9 L886.4,944.2 L887.9,945.1 L889.5,945.2 L891.1,945.1 L892.7,945.2 L894.2,946.2 L895.8,946.2 L897.4,946.9 L899.0,947.4 L900.6,947.3 L902.2,947.7 L903.7,947.4 L905.3,947.9 L906.9,947.4 L908.5,947.8 L910.1,947.6 L911.7,947.9 L913.3,948.8 L914.9,949.0 L916.4,948.7 L918.0,949.4 L919.6,949.9 L921.2,950.4 L922.8,950.1 L924.4,949.8 L926.0,950.5 L927.5,950.7 L929.1,950.3 L930.7,950.7 L932.3,951.1 L933.9,951.6 L935.5,951.7 L937.1,951.6 L938.7,951.4 L940.2,951.3 L941.8,951.5 L943.4,951.9 L945.0,952.2 L946.6,953.0 L948.2,953.0 L949.8,953.4 L951.4,953.5 L953.0,953.7 L954.6,954.0 L956.2,954.2 L957.8,954.2 L959.4,954.1 L961.0,954.5 L962.5,954.1 L964.1,954.0 L965.7,953.9 L967.3,954.0 L968.9,954.0 L970.5,954.2 L972.1,954.4 L973.7,955.0 L975.3,955.7 L976.9,955.6 L978.5,955.8 L980.1,955.7 L981.7,955.2 L983.3,955.6 L984.9,955.6 L986.5,955.4 L988.1,955.5 L989.6,955.4 L991.2,954.3 L992.7,953.4 L994.2,953.1 L995.7,952.8 L997.2,952.3 L998.7,951.6 L1000.3,951.2 L1001.9,951.4 L1003.4,951.7 L1004.8,952.6 L1006.3,953.8 L1007.8,954.7 L1009.3,955.1 L1010.9,954.8 L1012.5,954.9 L1014.1,954.7 L1015.7,954.8 L1017.3,954.6 L1018.9,954.7 L1020.5,955.4 L1022.1,955.3 L1023.7,955.7 L1025.3,955.8 L1026.9,955.6 L1028.5,956.0 L1030.0,956.0 L1031.6,955.7 L1033.2,955.7 L1034.8,956.0 L1036.4,955.9 L1038.0,956.1 L1039.6,956.1 L1041.2,956.8 L1042.8,956.3 L1044.4,956.7 L1046.0,956.3 L1047.6,956.0 L1049.2,956.8 L1050.8,957.1 L1052.4,956.8 L1054.0,957.3 L1055.6,956.9 L1057.2,956.8 L1058.8,957.3 L1060.4,957.5 L1062.0,957.7 L1063.6,957.2 L1065.2,957.4 L1066.8,957.7 L1068.4,957.7 L1070.0,957.3 L1071.6,957.7 L1073.2,957.8 L1074.8,957.1 L1076.4,957.2 L1078.0,957.8 L1079.6,957.9 L1081.2,957.8 L1082.8,957.2 L1084.4,957.7 L1086.0,957.3 L1087.6,957.1 L1089.2,957.6 L1090.8,957.6 L1092.4,958.1 L1094.0,958.2 L1095.6,957.4 L1097.2,957.1 L1098.8,957.1 L1100.4,957.0 L1102.0,957.2 L1103.6,957.3 L1105.2,957.1 L1106.8,957.7 L1108.4,958.1 L1110.0,957.8 L1111.6,957.9 L1113.2,958.0 L1114.8,958.5 L1116.4,958.5 L1118.0,957.9 L1119.6,958.0 L1121.2,957.8 L1122.8,958.4 L1124.4,958.6 L1126.0,958.3 L1127.6,958.7 L1129.2,958.7 L1130.8,958.8 L1132.4,958.3 L1134.0,958.6 L1135.6,958.1 L1137.2,958.6 L1138.8,958.3 L1140.4,958.8 L1142.0,958.6 L1143.6,958.3 L1145.2,958.1 L1146.8,958.2 L1148.4,958.8 L1150.0,958.6 L1151.6,958.4 L1153.2,959.0 L1154.8,959.1 L1156.4,958.4 L1158.0,958.6 L1159.6,959.1 L1161.2,958.8 L1162.8,958.3 L1164.4,958.7 L1166.0,959.0 L1167.6,959.2 L1169.2,959.2 L1170.8,959.0 L1172.4,958.9 L1174.0,958.6 L1175.6,959.3 L1177.2,959.7 L1178.8,959.0 L1180.4,958.7 L1182.0,958.4 L1183.6,958.7 L1185.2,959.3 L1186.8,959.1 L1188.4,959.0 L1190.0,959.1 L1191.6,959.4 L1193.2,959.5 L1194.8,959.4 L1196.4,959.4 L1198.0,959.4 L1199.6,959.6 L1201.2,959.4 L1202.8,960.0 L1204.4,960.0 L1206.0,960.2 L1207.6,960.1 L1209.2,960.4 L1210.8,959.6 L1212.4,959.5 L1214.0,959.8 L1215.6,960.3 L1217.2,960.1 L1218.8,959.7 L1220.4,960.1 L1222.0,960.6 L1223.6,959.9 L1225.2,959.6 L1226.8,960.1 L1228.4,959.9 L1230.0,960.6 L1231.6,960.0 L1233.2,960.5 L1234.8,960.3 L1236.4,960.5 L1238.0,960.7 L1239.6,960.6 L1241.2,960.4 L1242.8,960.9 L1244.4,960.7 L1246.0,960.3 L1247.6,959.9 L1249.2,960.4 L1250.8,960.2 L1252.4,960.4 L1254.0,960.2 L1255.6,960.0 L1257.2,960.3 L1258.8,960.6 L1260.4,960.5 L1262.0,961.0 L1263.6,961.1 L1265.2,961.0 L1266.8,960.9 L1268.4,961.1 L1270.0,960.6 L1271.6,960.9 L1273.2,960.3 L1274.8,960.8 L1276.4,960.8 L1278.0,960.0 L1279.6,959.4 L1281.2,959.7 L1282.8,959.4 L1284.3,959.1 L1285.8,958.3 L1287.3,957.9 L1288.7,957.4 L1290.1,956.9 L1291.7,956.4 L1293.2,956.3 L1294.8,956.2 L1296.4,957.1 L1297.8,957.2 L1299.3,957.8 L1300.8,958.3 L1302.3,959.2 L1303.9,959.2 L1305.5,959.0 L1307.1,959.7 L1308.7,959.9 L1310.3,959.7 L1311.9,960.3 L1313.5,959.7 L1315.1,959.7 L1316.7,960.4 L1318.3,960.7 L1319.9,960.6 L1321.5,960.3 L1323.1,960.0 L1324.7,960.5 L1326.3,960.2 L1327.9,960.9 L1329.5,960.5 L1331.1,960.4 L1332.7,960.1 L1334.3,960.4 L1335.9,960.7 L1337.5,961.1 L1339.1,960.7 L1340.7,960.5 L1342.3,960.6 L1343.9,961.4 L1345.5,961.0 L1347.1,961.0 L1348.7,961.6 L1350.3,961.7 L1351.9,961.4 L1353.5,961.6 L1355.1,961.3 L1356.7,961.4 L1358.3,961.5 L1359.9,961.2 L1361.5,960.8 L1362.0,961.3"/>
<path fill="#472C7A" stroke="#472C7A" stroke-width="1" stroke-linejoin="round" d="M403.0,644.5 L406.2,644.5 L414.9,645.5 L419.8,649.4 L425.8,647.5 L431.7,648.5 L433.7,653.4 L439.7,653.4 L444.6,656.4 L446.6,662.3 L451.6,662.3 L456.5,666.3 L459.5,680.2 L465.5,685.7 L469.4,682.2 L474.4,681.2 L481.3,684.2 L489.3,694.1 L495.2,695.6 L499.2,693.1 L505.2,693.1 L512.1,696.1 L519.0,701.0 L526.0,704.0 L531.9,702.0 L538.9,703.0 L550.0,708.0 L550.0,723.8 L538.9,717.9 L533.9,716.9 L528.0,719.9 L519.0,716.9 L507.1,709.0 L499.2,710.0 L489.3,708.0 L479.4,704.0 L475.4,699.0 L471.4,702.0 L460.5,701.0 L457.5,698.1 L451.6,694.1 L444.6,689.1 L439.7,684.2 L438.7,679.2 L432.7,675.2 L429.8,672.3 L419.8,669.3 L411.9,665.3 L406.2,658.4 L403.0,658.4Z"/>
<path fill="#472C7A" stroke="#472C7A" stroke-width="1.5" stroke-linejoin="round" d="M1359.0,954.7 L1370.7,957.8 L1381.4,958.9 L1386.2,962.6 L1391.0,959.4 L1404.9,957.8 L1410.2,950.9 L1417.7,948.2 L1423.1,950.9 L1428.4,957.3 L1434.8,957.8 L1441.2,954.6 L1449.8,953.5 L1455.1,955.1 L1457.3,958.3 L1463.7,958.3 L1469.0,954.6 L1475.4,954.6 L1482.9,956.7 L1491.5,958.9 L1497.9,957.3 L1502.2,955.1 L1508.6,954.1 L1508.6,974.4 L1359.0,967.7Z"/>
</g>
<path d="M483.8,197.5 L483.0,200.5 L481.9,204.7 L480.6,209.7 L479.2,215.0 L478.0,220.2 L477.0,225.0 L476.3,229.3 L475.6,233.3 L475.1,237.3 L474.7,241.4 L474.4,245.6 L474.2,250.0 L474.1,254.7 L474.2,259.7 L474.4,264.8 L474.7,269.9 L475.1,275.0 L475.5,280.0 L476.0,284.9 L476.5,289.9 L477.1,294.8 L477.8,299.6 L478.6,304.4 L479.4,309.0 L480.3,313.5 L481.4,318.0 L482.5,322.3 L483.6,326.6 L484.8,330.8 L486.0,335.0 L487.1,339.1 L488.3,343.1 L489.4,347.0 L490.6,350.8 L491.9,354.7 L493.3,358.6 L494.8,362.5 L496.4,366.5 L498.1,370.4 L499.9,374.3 L501.7,378.2 L503.5,382.0 L505.3,385.8 L507.2,389.6 L509.1,393.3 L511.1,397.0 L513.0,400.7 L515.0,404.2 L517.0,407.7 L519.0,411.0 L521.0,414.4 L523.0,417.6 L525.0,420.8 L527.0,424.0 L529.0,427.2 L531.1,430.3 L533.1,433.4 L535.1,436.4 L537.1,439.3 L538.9,442.0 L540.6,444.5 L542.2,446.7 L543.8,448.8 L545.3,450.9 L546.9,452.9 L548.5,455.0 L550.2,457.2 L551.9,459.4 L553.6,461.6 L555.3,463.7 L557.0,465.8 L558.7,467.8 L560.4,469.7 L562.0,471.4 L563.6,473.1 L565.2,474.7 L566.9,476.4 L568.5,478.0 L570.2,479.6 L571.9,481.2 L573.5,482.8 L575.2,484.4 L576.9,486.0 L578.6,487.6 L580.3,489.2 L581.9,490.9 L583.6,492.5 L585.2,494.2 L586.9,495.8 L588.5,497.5 L590.2,499.2 L591.9,500.9 L593.6,502.6 L595.3,504.3 L596.9,506.0 L598.4,507.5 L599.9,509.0 L601.4,510.5 L602.8,511.9 L604.1,513.1 L605.2,514.2 L606.0,515.0" fill="none" stroke="#000" stroke-width="3.1"/>
<path d="M640.5,543 L597.4,524.3 L612,506 Z" fill="#000"/>
<g stroke="#000" stroke-width="7" fill="none">
<path d="M1512.0,71.0 V971.0"/>
<path d="M1508.5,74.5 h-31"/>
<path d="M1508.5,163.8 h-14"/>
<path d="M1508.5,253.1 h-31"/>
<path d="M1508.5,342.4 h-14"/>
<path d="M1508.5,431.7 h-31"/>
<path d="M1508.5,521.0 h-14"/>
<path d="M1508.5,610.3 h-31"/>
<path d="M1508.5,699.6 h-14"/>
<path d="M1508.5,788.9 h-31"/>
<path d="M1508.5,878.2 h-14"/>
<path d="M1508.5,967.5 h-31"/>
</g>
<text x="501" y="186.3" style="font-size:77px;fill:#472C7A">Solution</text>
<text class="an" x="513" y="308.2">×10</text>
<text class="an" x="639" y="788">1h</text>
<text class="an" x="761.3" y="712.5">4h</text>
<text class="an" x="940" y="548.8">20h</text>
<text class="an" x="1088.5" y="460">24h</text>
</svg></body></html>
